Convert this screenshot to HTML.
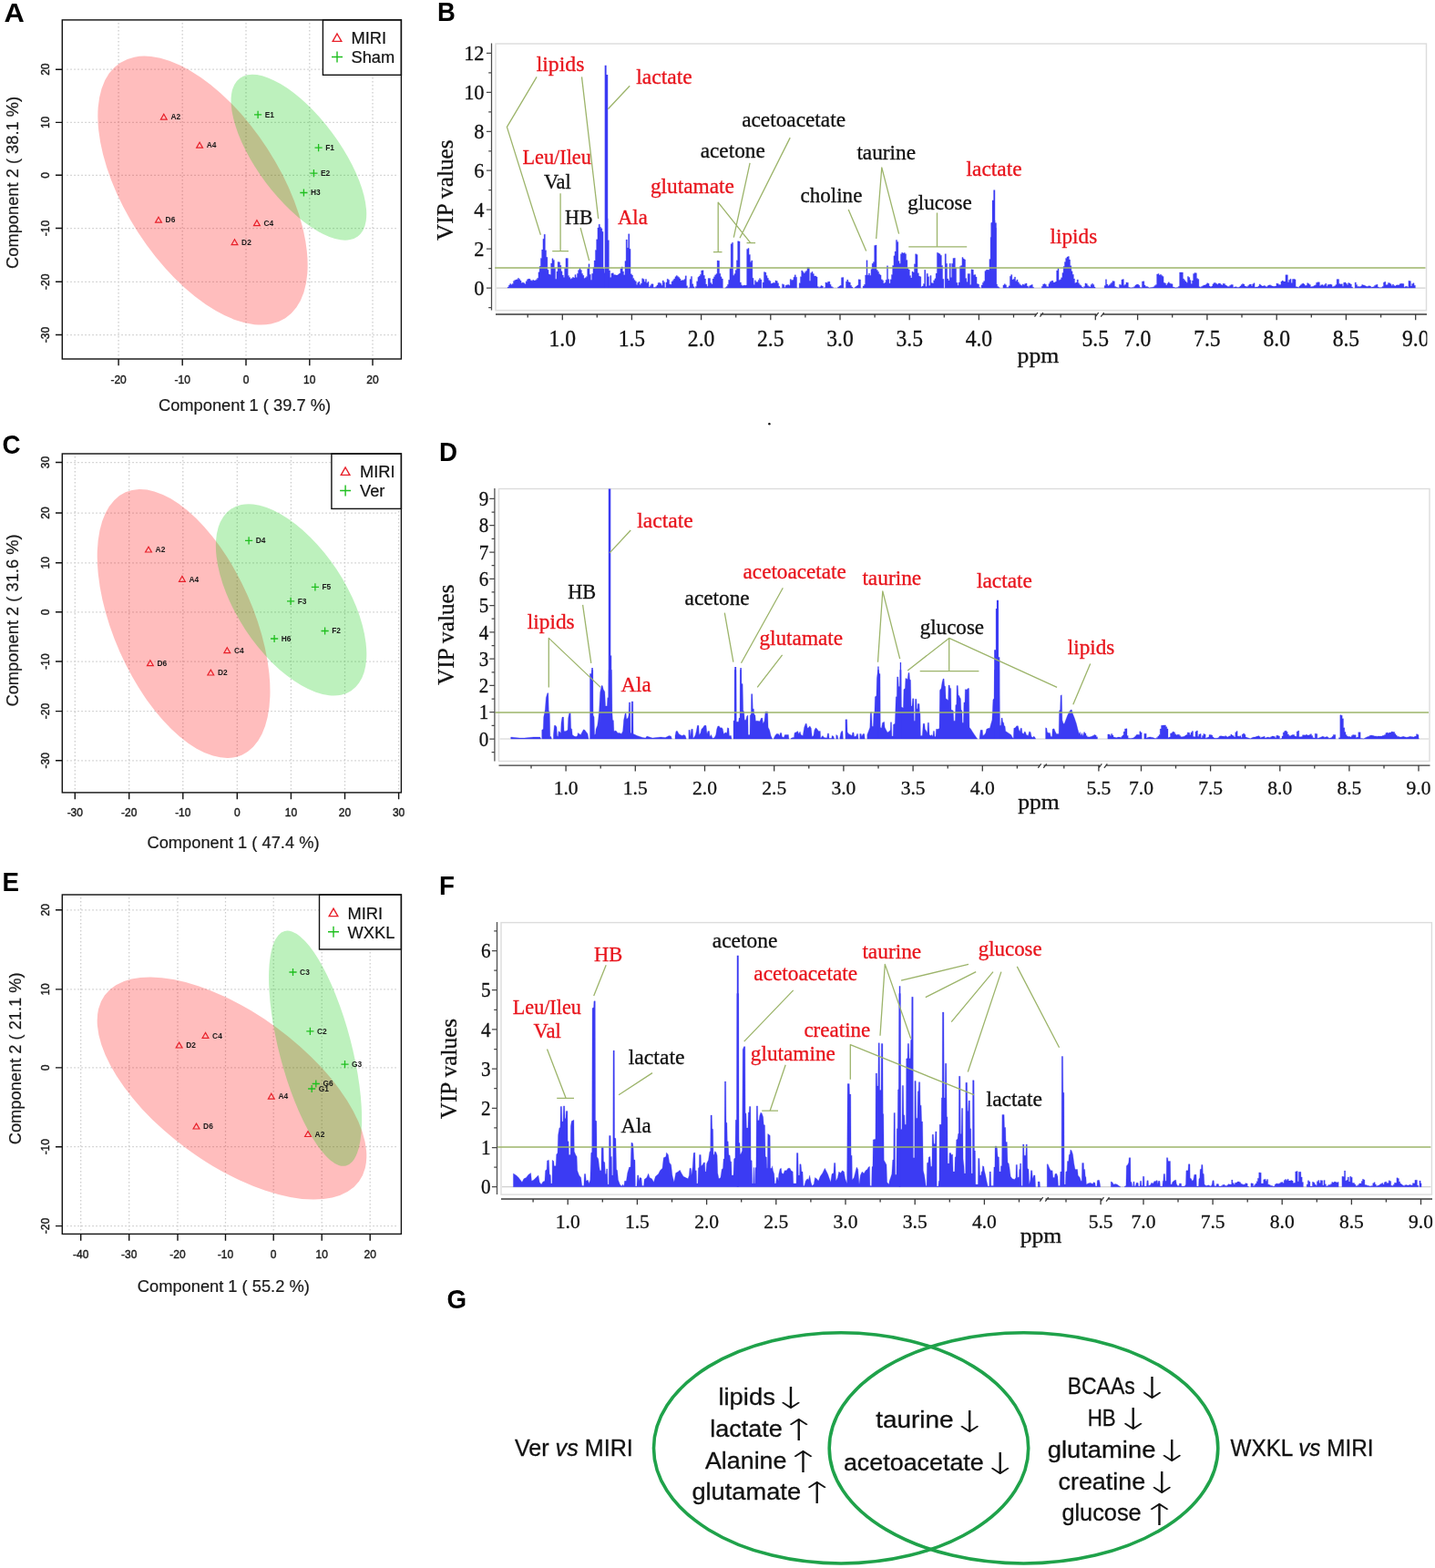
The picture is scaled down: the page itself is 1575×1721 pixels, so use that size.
<!DOCTYPE html>
<html lang="en"><head><meta charset="utf-8"><title>Figure</title>
<style>
html,body{margin:0;padding:0;background:#fff;}
body{width:1575px;height:1721px;overflow:hidden;}
svg{display:block;}
text{white-space:pre;}
</style></head><body>
<svg width="1575" height="1721" viewBox="0 0 1575 1721">
<rect width="1575" height="1721" fill="#fff"/>
<g>
<rect x="544.0" y="48.0" width="1021.5" height="292.6" fill="#fff" stroke="#dcdcdc" stroke-width="1.4"/>
<path d="M545.0 316.1H1564.5" stroke="#d0d0d0" stroke-width="1.2" fill="none"/>
<path d="M557.1 316.1L557.1 316.1L557.1 315.0L558.4 315.0L558.4 312.9L559.6 312.9L559.6 311.6L560.9 311.6L560.9 312.6L562.1 312.6L562.1 311.5L563.4 311.5L563.4 308.4L564.6 308.4L564.6 307.6L565.9 307.6L565.9 307.1L567.1 307.1L567.1 306.7L568.4 306.7L568.4 305.3L569.6 305.3L569.6 306.5L570.9 306.5L570.9 308.1L572.1 308.1L572.1 310.4L573.4 310.4L573.4 309.9L574.6 309.9L574.6 310.7L575.9 310.7L575.9 311.8L577.1 311.8L577.1 308.7L578.4 308.7L578.4 306.8L579.6 306.8L579.6 306.1L580.9 306.1L580.9 306.3L582.1 306.3L582.1 307.7L583.4 307.7L583.4 308.3L584.6 308.3L584.6 307.3L585.9 307.3L585.9 308.1L587.1 308.1L587.1 307.7L588.4 307.7L588.4 306.7L589.6 306.7L589.6 305.3L590.9 305.3L590.9 298.7L592.1 298.7L592.1 292.3L593.4 292.3L593.4 283.4L594.6 283.4L594.6 274.1L595.9 274.1L595.9 262.3L597.1 262.3L597.1 257.2L598.4 257.2L598.4 274.7L599.6 274.7L599.6 282.3L600.9 282.3L600.9 296.2L602.1 296.2L602.1 301.1L603.4 301.1L603.4 301.6L604.6 301.6L604.6 289.1L605.9 289.1L605.9 283.7L607.1 283.7L607.1 285.4L608.4 285.4L608.4 294.0L609.6 294.0L609.6 306.2L610.9 306.2L610.9 298.0L612.1 298.0L612.1 287.5L613.4 287.5L613.4 287.8L614.6 287.8L614.6 291.3L615.9 291.3L615.9 297.8L617.1 297.8L617.1 302.1L618.4 302.1L618.4 304.5L619.6 304.5L619.6 294.2L620.9 294.2L620.9 283.6L622.1 283.6L622.1 283.6L623.4 283.6L623.4 302.4L624.6 302.4L624.6 304.6L625.9 304.6L625.9 306.2L627.1 306.2L627.1 305.6L628.4 305.6L628.4 304.3L629.6 304.3L629.6 304.9L630.9 304.9L630.9 301.6L632.1 301.6L632.1 304.4L633.4 304.4L633.4 300.3L634.6 300.3L634.6 296.6L635.9 296.6L635.9 294.4L637.1 294.4L637.1 296.5L638.4 296.5L638.4 300.3L639.6 300.3L639.6 302.3L640.9 302.3L640.9 305.6L642.1 305.6L642.1 304.7L643.4 304.7L643.4 303.4L644.6 303.4L644.6 294.8L645.9 294.8L645.9 289.8L647.1 289.8L647.1 301.3L648.4 301.3L648.4 307.2L649.6 307.2L649.6 300.3L650.9 300.3L650.9 293.4L652.1 293.4L652.1 286.0L653.4 286.0L653.4 274.6L654.6 274.6L654.6 262.8L655.9 262.8L655.9 250.0L657.1 250.0L657.1 246.2L658.4 246.2L658.4 249.2L659.6 249.2L659.6 250.8L660.9 250.8L660.9 254.3L662.1 254.3L662.1 294.9L663.4 294.9L663.4 299.4L664.6 299.4L664.6 238.8L665.9 238.8L665.9 239.8L667.1 239.8L667.1 263.7L668.4 263.7L668.4 296.9L669.6 296.9L669.6 304.5L670.9 304.5L670.9 300.1L672.1 300.1L672.1 299.8L673.4 299.8L673.4 301.5L674.6 301.5L674.6 301.7L675.9 301.7L675.9 302.1L677.1 302.1L677.1 302.0L678.4 302.0L678.4 301.1L679.6 301.1L679.6 300.0L680.9 300.0L680.9 295.1L682.1 295.1L682.1 292.9L683.4 292.9L683.4 298.0L684.6 298.0L684.6 301.8L685.9 301.8L685.9 286.6L687.1 286.6L687.1 263.0L688.4 263.0L688.4 272.0L689.6 272.0L689.6 256.8L690.9 256.8L690.9 273.3L692.1 273.3L692.1 300.7L693.4 300.7L693.4 302.1L694.6 302.1L694.6 305.4L695.9 305.4L695.9 307.4L697.1 307.4L697.1 308.8L698.4 308.8L698.4 312.5L699.6 312.5L699.6 310.3L700.9 310.3L700.9 309.1L702.1 309.1L702.1 312.6L703.4 312.6L703.4 310.9L704.6 310.9L704.6 305.7L705.9 305.7L705.9 306.4L707.1 306.4L707.1 309.2L708.4 309.2L708.4 306.5L709.6 306.5L709.6 310.6L710.9 310.6L710.9 309.2L712.1 309.2L712.1 314.9L713.4 314.9L713.4 313.4L714.6 313.4L714.6 311.8L715.9 311.8L715.9 311.8L717.1 311.8L717.1 315.6L718.4 315.6L718.4 315.5L719.6 315.5L719.6 314.6L720.9 314.6L720.9 313.0L722.1 313.0L722.1 310.4L723.4 310.4L723.4 310.2L724.6 310.2L724.6 311.3L725.9 311.3L725.9 313.2L727.1 313.2L727.1 307.9L728.4 307.9L728.4 309.7L729.6 309.7L729.6 315.7L730.9 315.7L730.9 309.9L732.1 309.9L732.1 306.2L733.4 306.2L733.4 307.3L734.6 307.3L734.6 312.0L735.9 312.0L735.9 312.3L737.1 312.3L737.1 308.9L738.4 308.9L738.4 307.6L739.6 307.6L739.6 305.9L740.9 305.9L740.9 303.7L742.1 303.7L742.1 302.6L743.4 302.6L743.4 303.5L744.6 303.5L744.6 304.5L745.9 304.5L745.9 306.1L747.1 306.1L747.1 308.1L748.4 308.1L748.4 307.6L749.6 307.6L749.6 307.6L750.9 307.6L750.9 306.4L752.1 306.4L752.1 302.8L753.4 302.8L753.4 313.7L754.6 313.7L754.6 316.1L754.6 316.1ZM755.9 316.1L755.9 316.1L755.9 315.7L757.1 315.7L757.1 306.5L758.4 306.5L758.4 303.5L759.6 303.5L759.6 311.7L760.9 311.7L760.9 314.7L762.1 314.7L762.1 316.1L762.1 316.1ZM763.4 316.1L763.4 316.1L763.4 314.4L764.6 314.4L764.6 308.8L765.9 308.8L765.9 304.2L767.1 304.2L767.1 303.1L768.4 303.1L768.4 301.3L769.6 301.3L769.6 296.9L770.9 296.9L770.9 296.7L772.1 296.7L772.1 302.3L773.4 302.3L773.4 306.1L774.6 306.1L774.6 311.9L775.9 311.9L775.9 314.2L777.1 314.2L777.1 305.5L778.4 305.5L778.4 305.6L779.6 305.6L779.6 310.6L780.9 310.6L780.9 312.0L782.1 312.0L782.1 306.1L783.4 306.1L783.4 303.8L784.6 303.8L784.6 301.8L785.9 301.8L785.9 300.6L787.1 300.6L787.1 286.0L788.4 286.0L788.4 286.3L789.6 286.3L789.6 300.2L790.9 300.2L790.9 303.8L792.1 303.8L792.1 306.0L793.4 306.0L793.4 316.1L793.4 316.1ZM795.9 316.1L795.9 316.1L795.9 315.8L797.1 315.8L797.1 314.6L798.4 314.6L798.4 312.3L799.6 312.3L799.6 307.3L800.9 307.3L800.9 294.5L802.1 294.5L802.1 267.8L803.4 267.8L803.4 266.3L804.6 266.3L804.6 302.2L805.9 302.2L805.9 300.6L807.1 300.6L807.1 296.6L808.4 296.6L808.4 285.8L809.6 285.8L809.6 264.7L810.9 264.7L810.9 265.1L812.1 265.1L812.1 309.9L813.4 309.9L813.4 312.8L814.6 312.8L814.6 313.8L815.9 313.8L815.9 313.1L817.1 313.1L817.1 313.2L818.4 313.2L818.4 313.0L819.6 313.0L819.6 273.4L820.9 273.4L820.9 272.5L822.1 272.5L822.1 279.4L823.4 279.4L823.4 287.5L824.6 287.5L824.6 285.9L825.9 285.9L825.9 305.3L827.1 305.3L827.1 312.4L828.4 312.4L828.4 307.8L829.6 307.8L829.6 309.6L830.9 309.6L830.9 309.6L832.1 309.6L832.1 307.4L833.4 307.4L833.4 305.6L834.6 305.6L834.6 306.9L835.9 306.9L835.9 316.1L835.9 316.1ZM837.1 316.1L837.1 316.1L837.1 310.1L838.4 310.1L838.4 298.6L839.6 298.6L839.6 299.1L840.9 299.1L840.9 302.5L842.1 302.5L842.1 305.3L843.4 305.3L843.4 307.5L844.6 307.5L844.6 308.6L845.9 308.6L845.9 311.3L847.1 311.3L847.1 311.1L848.4 311.1L848.4 310.2L849.6 310.2L849.6 310.6L850.9 310.6L850.9 307.9L852.1 307.9L852.1 308.5L853.4 308.5L853.4 310.7L854.6 310.7L854.6 314.3L855.9 314.3L855.9 316.1L855.9 316.1ZM858.4 316.1L858.4 316.1L858.4 311.8L859.6 311.8L859.6 312.5L860.9 312.5L860.9 315.5L862.1 315.5L862.1 313.3L863.4 313.3L863.4 312.7L864.6 312.7L864.6 312.6L865.9 312.6L865.9 313.2L867.1 313.2L867.1 306.6L868.4 306.6L868.4 307.4L869.6 307.4L869.6 307.3L870.9 307.3L870.9 304.2L872.1 304.2L872.1 301.8L873.4 301.8L873.4 304.2L874.6 304.2L874.6 316.1L874.6 316.1ZM877.1 316.1L877.1 316.1L877.1 310.7L878.4 310.7L878.4 303.7L879.6 303.7L879.6 297.0L880.9 297.0L880.9 298.5L882.1 298.5L882.1 300.1L883.4 300.1L883.4 298.5L884.6 298.5L884.6 297.2L885.9 297.2L885.9 293.6L887.1 293.6L887.1 293.6L888.4 293.6L888.4 308.2L889.6 308.2L889.6 299.6L890.9 299.6L890.9 298.3L892.1 298.3L892.1 300.6L893.4 300.6L893.4 303.0L894.6 303.0L894.6 302.9L895.9 302.9L895.9 303.9L897.1 303.9L897.1 314.6L898.4 314.6L898.4 315.7L899.6 315.7L899.6 314.8L900.9 314.8L900.9 313.6L902.1 313.6L902.1 314.1L903.4 314.1L903.4 316.1L903.4 316.1ZM904.6 316.1L904.6 316.1L904.6 315.7L905.9 315.7L905.9 310.0L907.1 310.0L907.1 310.6L908.4 310.6L908.4 309.3L909.6 309.3L909.6 309.1L910.9 309.1L910.9 312.2L912.1 312.2L912.1 314.4L913.4 314.4L913.4 315.5L914.6 315.5L914.6 316.1L914.6 316.1ZM919.6 316.1L919.6 316.1L919.6 314.9L920.9 314.9L920.9 314.1L922.1 314.1L922.1 313.3L923.4 313.3L923.4 304.7L924.6 304.7L924.6 304.4L925.9 304.4L925.9 316.1L925.9 316.1ZM928.4 316.1L928.4 316.1L928.4 308.9L929.6 308.9L929.6 307.1L930.9 307.1L930.9 309.6L932.1 309.6L932.1 310.1L933.4 310.1L933.4 313.2L934.6 313.2L934.6 315.0L935.9 315.0L935.9 316.1L935.9 316.1ZM938.4 316.1L938.4 316.1L938.4 315.0L939.6 315.0L939.6 314.0L940.9 314.0L940.9 312.9L942.1 312.9L942.1 306.7L943.4 306.7L943.4 306.9L944.6 306.9L944.6 316.1L944.6 316.1ZM947.1 316.1L947.1 316.1L947.1 314.0L948.4 314.0L948.4 312.3L949.6 312.3L949.6 301.9L950.9 301.9L950.9 285.7L952.1 285.7L952.1 302.0L953.4 302.0L953.4 300.1L954.6 300.1L954.6 302.3L955.9 302.3L955.9 295.6L957.1 295.6L957.1 289.3L958.4 289.3L958.4 287.6L959.6 287.6L959.6 269.4L960.9 269.4L960.9 269.1L962.1 269.1L962.1 296.5L963.4 296.5L963.4 298.2L964.6 298.2L964.6 300.8L965.9 300.8L965.9 301.9L967.1 301.9L967.1 306.7L968.4 306.7L968.4 307.8L969.6 307.8L969.6 311.0L970.9 311.0L970.9 310.3L972.1 310.3L972.1 307.2L973.4 307.2L973.4 291.8L974.6 291.8L974.6 306.6L975.9 306.6L975.9 310.9L977.1 310.9L977.1 306.8L978.4 306.8L978.4 301.6L979.6 301.6L979.6 291.5L980.9 291.5L980.9 280.8L982.1 280.8L982.1 276.0L983.4 276.0L983.4 263.4L984.6 263.4L984.6 265.4L985.9 265.4L985.9 286.4L987.1 286.4L987.1 289.2L988.4 289.2L988.4 278.8L989.6 278.8L989.6 277.3L990.9 277.3L990.9 277.9L992.1 277.9L992.1 277.5L993.4 277.5L993.4 278.7L994.6 278.7L994.6 285.5L995.9 285.5L995.9 294.4L997.1 294.4L997.1 295.9L998.4 295.9L998.4 302.6L999.6 302.6L999.6 305.1L1000.9 305.1L1000.9 298.1L1002.1 298.1L1002.1 298.9L1003.4 298.9L1003.4 289.8L1004.6 289.8L1004.6 278.8L1005.9 278.8L1005.9 279.4L1007.1 279.4L1007.1 299.8L1008.4 299.8L1008.4 303.1L1009.6 303.1L1009.6 303.7L1010.9 303.7L1010.9 314.7L1012.1 314.7L1012.1 314.0L1013.4 314.0L1013.4 311.5L1014.6 311.5L1014.6 296.3L1015.9 296.3L1015.9 314.6L1017.1 314.6L1017.1 300.3L1018.4 300.3L1018.4 303.7L1019.6 303.7L1019.6 313.6L1020.9 313.6L1020.9 302.4L1022.1 302.4L1022.1 310.4L1023.4 310.4L1023.4 311.1L1024.6 311.1L1024.6 307.8L1025.9 307.8L1025.9 305.8L1027.1 305.8L1027.1 300.1L1028.4 300.1L1028.4 277.3L1029.6 277.3L1029.6 277.9L1030.9 277.9L1030.9 278.7L1032.1 278.7L1032.1 280.2L1033.4 280.2L1033.4 291.4L1034.6 291.4L1034.6 306.3L1035.9 306.3L1035.9 316.1L1035.9 316.1ZM1037.1 316.1L1037.1 316.1L1037.1 278.7L1038.4 278.7L1038.4 289.2L1039.6 289.2L1039.6 305.9L1040.9 305.9L1040.9 308.0L1042.1 308.0L1042.1 289.2L1043.4 289.2L1043.4 304.5L1044.6 304.5L1044.6 289.2L1045.9 289.2L1045.9 283.5L1047.1 283.5L1047.1 283.3L1048.4 283.3L1048.4 294.0L1049.6 294.0L1049.6 310.3L1050.9 310.3L1050.9 313.3L1052.1 313.3L1052.1 309.9L1053.4 309.9L1053.4 292.4L1054.6 292.4L1054.6 291.5L1055.9 291.5L1055.9 282.5L1057.1 282.5L1057.1 284.0L1058.4 284.0L1058.4 284.9L1059.6 284.9L1059.6 305.5L1060.9 305.5L1060.9 309.5L1062.1 309.5L1062.1 300.5L1063.4 300.5L1063.4 300.5L1064.6 300.5L1064.6 312.4L1065.9 312.4L1065.9 295.8L1067.1 295.8L1067.1 296.0L1068.4 296.0L1068.4 301.8L1069.6 301.8L1069.6 301.4L1070.9 301.4L1070.9 304.1L1072.1 304.1L1072.1 311.5L1073.4 311.5L1073.4 312.1L1074.6 312.1L1074.6 315.6L1075.9 315.6L1075.9 316.1L1075.9 316.1ZM1077.1 316.1L1077.1 316.1L1077.1 312.9L1078.4 312.9L1078.4 310.2L1079.6 310.2L1079.6 308.6L1080.9 308.6L1080.9 297.4L1082.1 297.4L1082.1 296.2L1083.4 296.2L1083.4 296.0L1084.6 296.0L1084.6 296.2L1085.9 296.2L1085.9 284.5L1087.1 284.5L1087.1 260.4L1088.4 260.4L1088.4 244.2L1089.6 244.2L1089.6 238.8L1090.9 238.8L1090.9 241.9L1092.1 241.9L1092.1 250.3L1093.4 250.3L1093.4 312.0L1094.6 312.0L1094.6 314.5L1095.9 314.5L1095.9 315.6L1097.1 315.6L1097.1 316.1L1097.1 316.1ZM1100.9 316.1L1100.9 316.1L1100.9 313.1L1102.1 313.1L1102.1 311.7L1103.4 311.7L1103.4 312.8L1104.6 312.8L1104.6 315.5L1105.9 315.5L1105.9 315.5L1107.1 315.5L1107.1 313.8L1108.4 313.8L1108.4 303.2L1109.6 303.2L1109.6 301.6L1110.9 301.6L1110.9 306.9L1112.1 306.9L1112.1 306.2L1113.4 306.2L1113.4 304.0L1114.6 304.0L1114.6 308.6L1115.9 308.6L1115.9 306.9L1117.1 306.9L1117.1 309.7L1118.4 309.7L1118.4 311.6L1119.6 311.6L1119.6 312.8L1120.9 312.8L1120.9 313.6L1122.1 313.6L1122.1 311.9L1123.4 311.9L1123.4 312.7L1124.6 312.7L1124.6 311.6L1125.9 311.6L1125.9 311.0L1127.1 311.0L1127.1 313.9L1128.4 313.9L1128.4 315.4L1129.6 315.4L1129.6 313.7L1130.9 313.7L1130.9 312.9L1132.1 312.9L1132.1 312.4L1133.4 312.4L1133.4 315.3L1134.6 315.3L1134.6 316.1L1134.6 316.1ZM1143.4 316.1L1143.4 316.1L1143.4 314.2L1144.6 314.2L1144.6 311.9L1145.9 311.9L1145.9 311.6L1147.1 311.6L1147.1 312.3L1148.4 312.3L1148.4 314.5L1149.6 314.5L1149.6 314.7L1150.9 314.7L1150.9 311.6L1152.1 311.6L1152.1 309.4L1153.4 309.4L1153.4 308.6L1154.6 308.6L1154.6 308.1L1155.9 308.1L1155.9 309.9L1157.1 309.9L1157.1 310.0L1158.4 310.0L1158.4 309.1L1159.6 309.1L1159.6 296.9L1160.9 296.9L1160.9 294.7L1162.1 294.7L1162.1 307.5L1163.4 307.5L1163.4 306.8L1164.6 306.8L1164.6 304.7L1165.9 304.7L1165.9 299.6L1167.1 299.6L1167.1 292.5L1168.4 292.5L1168.4 287.6L1169.6 287.6L1169.6 283.5L1170.9 283.5L1170.9 282.1L1172.1 282.1L1172.1 281.5L1173.4 281.5L1173.4 285.1L1174.6 285.1L1174.6 291.7L1175.9 291.7L1175.9 297.7L1177.1 297.7L1177.1 301.2L1178.4 301.2L1178.4 305.9L1179.6 305.9L1179.6 310.4L1180.9 310.4L1180.9 310.1L1182.1 310.1L1182.1 306.9L1183.4 306.9L1183.4 310.7L1184.6 310.7L1184.6 312.6L1185.9 312.6L1185.9 313.4L1187.1 313.4L1187.1 315.0L1188.4 315.0L1188.4 315.9L1189.6 315.9L1189.6 314.4L1190.9 314.4L1190.9 310.9L1192.1 310.9L1192.1 311.6L1193.4 311.6L1193.4 313.5L1194.6 313.5L1194.6 314.4L1195.9 314.4L1195.9 315.1L1197.1 315.1L1197.1 312.5L1198.4 312.5L1198.4 311.3L1199.6 311.3L1199.6 312.4L1200.9 312.4L1200.9 315.0L1202.1 315.0L1202.1 316.1L1202.1 316.1ZM1212.1 316.1L1212.1 316.1L1212.1 313.6L1213.4 313.6L1213.4 306.7L1214.6 306.7L1214.6 312.1L1215.9 312.1L1215.9 313.8L1217.1 313.8L1217.1 312.8L1218.4 312.8L1218.4 311.6L1219.6 311.6L1219.6 310.2L1220.9 310.2L1220.9 308.5L1222.1 308.5L1222.1 308.7L1223.4 308.7L1223.4 314.5L1224.6 314.5L1224.6 315.3L1225.9 315.3L1225.9 315.7L1227.1 315.7L1227.1 316.0L1228.4 316.0L1228.4 312.3L1229.6 312.3L1229.6 312.7L1230.9 312.7L1230.9 306.9L1232.1 306.9L1232.1 306.6L1233.4 306.6L1233.4 313.2L1234.6 313.2L1234.6 312.3L1235.9 312.3L1235.9 310.0L1237.1 310.0L1237.1 310.2L1238.4 310.2L1238.4 315.2L1239.6 315.2L1239.6 315.8L1240.9 315.8L1240.9 315.9L1242.1 315.9L1242.1 315.7L1243.4 315.7L1243.4 315.4L1244.6 315.4L1244.6 314.6L1245.9 314.6L1245.9 312.9L1247.1 312.9L1247.1 312.2L1248.4 312.2L1248.4 312.1L1249.6 312.1L1249.6 313.3L1250.9 313.3L1250.9 315.5L1252.1 315.5L1252.1 315.8L1253.4 315.8L1253.4 308.9L1254.6 308.9L1254.6 308.7L1255.9 308.7L1255.9 312.9L1257.1 312.9L1257.1 314.5L1258.4 314.5L1258.4 314.4L1259.6 314.4L1259.6 315.2L1260.9 315.2L1260.9 316.0L1262.1 316.0L1262.1 315.8L1263.4 315.8L1263.4 315.6L1264.6 315.6L1264.6 315.3L1265.9 315.3L1265.9 314.7L1267.1 314.7L1267.1 313.6L1268.4 313.6L1268.4 312.5L1269.6 312.5L1269.6 300.9L1270.9 300.9L1270.9 300.4L1272.1 300.4L1272.1 302.0L1273.4 302.0L1273.4 301.2L1274.6 301.2L1274.6 302.5L1275.9 302.5L1275.9 303.4L1277.1 303.4L1277.1 310.3L1278.4 310.3L1278.4 310.9L1279.6 310.9L1279.6 312.9L1280.9 312.9L1280.9 311.2L1282.1 311.2L1282.1 309.8L1283.4 309.8L1283.4 310.9L1284.6 310.9L1284.6 311.4L1285.9 311.4L1285.9 311.7L1287.1 311.7L1287.1 315.0L1288.4 315.0L1288.4 315.5L1289.6 315.5L1289.6 316.0L1290.9 316.0L1290.9 315.8L1292.1 315.8L1292.1 315.4L1293.4 315.4L1293.4 314.3L1294.6 314.3L1294.6 298.9L1295.9 298.9L1295.9 298.9L1297.1 298.9L1297.1 299.1L1298.4 299.1L1298.4 305.9L1299.6 305.9L1299.6 307.5L1300.9 307.5L1300.9 309.0L1302.1 309.0L1302.1 310.3L1303.4 310.3L1303.4 303.4L1304.6 303.4L1304.6 304.6L1305.9 304.6L1305.9 307.4L1307.1 307.4L1307.1 311.6L1308.4 311.6L1308.4 308.1L1309.6 308.1L1309.6 300.4L1310.9 300.4L1310.9 299.5L1312.1 299.5L1312.1 299.7L1313.4 299.7L1313.4 305.6L1314.6 305.6L1314.6 306.5L1315.9 306.5L1315.9 314.7L1317.1 314.7L1317.1 315.2L1318.4 315.2L1318.4 314.5L1319.6 314.5L1319.6 313.8L1320.9 313.8L1320.9 312.9L1322.1 312.9L1322.1 312.9L1323.4 312.9L1323.4 312.0L1324.6 312.0L1324.6 310.8L1325.9 310.8L1325.9 311.3L1327.1 311.3L1327.1 314.1L1328.4 314.1L1328.4 315.1L1329.6 315.1L1329.6 314.1L1330.9 314.1L1330.9 311.8L1332.1 311.8L1332.1 310.5L1333.4 310.5L1333.4 310.6L1334.6 310.6L1334.6 311.6L1335.9 311.6L1335.9 312.3L1337.1 312.3L1337.1 311.0L1338.4 311.0L1338.4 311.1L1339.6 311.1L1339.6 312.3L1340.9 312.3L1340.9 312.9L1342.1 312.9L1342.1 311.3L1343.4 311.3L1343.4 311.5L1344.6 311.5L1344.6 312.9L1345.9 312.9L1345.9 313.8L1347.1 313.8L1347.1 314.4L1348.4 314.4L1348.4 314.6L1349.6 314.6L1349.6 313.3L1350.9 313.3L1350.9 312.4L1352.1 312.4L1352.1 312.6L1353.4 312.6L1353.4 315.4L1354.6 315.4L1354.6 314.9L1355.9 314.9L1355.9 314.7L1357.1 314.7L1357.1 315.2L1358.4 315.2L1358.4 315.7L1359.6 315.7L1359.6 315.0L1360.9 315.0L1360.9 313.9L1362.1 313.9L1362.1 312.6L1363.4 312.6L1363.4 311.6L1364.6 311.6L1364.6 311.9L1365.9 311.9L1365.9 314.1L1367.1 314.1L1367.1 314.4L1368.4 314.4L1368.4 314.7L1369.6 314.7L1369.6 313.6L1370.9 313.6L1370.9 312.3L1372.1 312.3L1372.1 312.1L1373.4 312.1L1373.4 314.0L1374.6 314.0L1374.6 311.8L1375.9 311.8L1375.9 310.7L1377.1 310.7L1377.1 315.3L1378.4 315.3L1378.4 315.1L1379.6 315.1L1379.6 315.1L1380.9 315.1L1380.9 314.1L1382.1 314.1L1382.1 311.9L1383.4 311.9L1383.4 313.1L1384.6 313.1L1384.6 313.9L1385.9 313.9L1385.9 313.9L1387.1 313.9L1387.1 313.5L1388.4 313.5L1388.4 314.2L1389.6 314.2L1389.6 314.9L1390.9 314.9L1390.9 313.8L1392.1 313.8L1392.1 313.0L1393.4 313.0L1393.4 312.8L1394.6 312.8L1394.6 313.6L1395.9 313.6L1395.9 314.1L1397.1 314.1L1397.1 314.3L1398.4 314.3L1398.4 314.3L1399.6 314.3L1399.6 314.1L1400.9 314.1L1400.9 311.1L1402.1 311.1L1402.1 311.5L1403.4 311.5L1403.4 312.4L1404.6 312.4L1404.6 312.6L1405.9 312.6L1405.9 309.1L1407.1 309.1L1407.1 308.0L1408.4 308.0L1408.4 309.1L1409.6 309.1L1409.6 309.1L1410.9 309.1L1410.9 301.7L1412.1 301.7L1412.1 301.8L1413.4 301.8L1413.4 309.8L1414.6 309.8L1414.6 307.3L1415.9 307.3L1415.9 306.2L1417.1 306.2L1417.1 310.4L1418.4 310.4L1418.4 306.5L1419.6 306.5L1419.6 306.3L1420.9 306.3L1420.9 306.8L1422.1 306.8L1422.1 314.7L1423.4 314.7L1423.4 315.1L1424.6 315.1L1424.6 315.4L1425.9 315.4L1425.9 314.1L1427.1 314.1L1427.1 312.8L1428.4 312.8L1428.4 311.8L1429.6 311.8L1429.6 310.9L1430.9 310.9L1430.9 311.9L1432.1 311.9L1432.1 313.6L1433.4 313.6L1433.4 313.2L1434.6 313.2L1434.6 310.7L1435.9 310.7L1435.9 311.5L1437.1 311.5L1437.1 312.5L1438.4 312.5L1438.4 314.7L1439.6 314.7L1439.6 314.6L1440.9 314.6L1440.9 314.3L1442.1 314.3L1442.1 313.5L1443.4 313.5L1443.4 312.8L1444.6 312.8L1444.6 310.2L1445.9 310.2L1445.9 309.7L1447.1 309.7L1447.1 309.8L1448.4 309.8L1448.4 313.7L1449.6 313.7L1449.6 312.7L1450.9 312.7L1450.9 312.6L1452.1 312.6L1452.1 313.5L1453.4 313.5L1453.4 312.4L1454.6 312.4L1454.6 311.2L1455.9 311.2L1455.9 314.3L1457.1 314.3L1457.1 312.6L1458.4 312.6L1458.4 312.3L1459.6 312.3L1459.6 312.0L1460.9 312.0L1460.9 312.6L1462.1 312.6L1462.1 314.8L1463.4 314.8L1463.4 314.5L1464.6 314.5L1464.6 313.8L1465.9 313.8L1465.9 312.5L1467.1 312.5L1467.1 306.6L1468.4 306.6L1468.4 306.6L1469.6 306.6L1469.6 311.6L1470.9 311.6L1470.9 312.0L1472.1 312.0L1472.1 311.8L1473.4 311.8L1473.4 314.2L1474.6 314.2L1474.6 310.2L1475.9 310.2L1475.9 309.9L1477.1 309.9L1477.1 311.3L1478.4 311.3L1478.4 312.8L1479.6 312.8L1479.6 310.6L1480.9 310.6L1480.9 311.1L1482.1 311.1L1482.1 311.9L1483.4 311.9L1483.4 314.9L1484.6 314.9L1484.6 316.1L1484.6 316.1ZM1487.1 316.1L1487.1 316.1L1487.1 309.9L1488.4 309.9L1488.4 312.4L1489.6 312.4L1489.6 314.5L1490.9 314.5L1490.9 314.5L1492.1 314.5L1492.1 314.7L1493.4 314.7L1493.4 313.9L1494.6 313.9L1494.6 312.6L1495.9 312.6L1495.9 312.9L1497.1 312.9L1497.1 313.2L1498.4 313.2L1498.4 314.1L1499.6 314.1L1499.6 314.5L1500.9 314.5L1500.9 314.2L1502.1 314.2L1502.1 313.8L1503.4 313.8L1503.4 314.1L1504.6 314.1L1504.6 315.3L1505.9 315.3L1505.9 315.0L1507.1 315.0L1507.1 314.8L1508.4 314.8L1508.4 313.4L1509.6 313.4L1509.6 312.7L1510.9 312.7L1510.9 312.3L1512.1 312.3L1512.1 315.0L1513.4 315.0L1513.4 315.7L1514.6 315.7L1514.6 315.8L1515.9 315.8L1515.9 315.4L1517.1 315.4L1517.1 314.5L1518.4 314.5L1518.4 310.1L1519.6 310.1L1519.6 309.3L1520.9 309.3L1520.9 312.7L1522.1 312.7L1522.1 312.5L1523.4 312.5L1523.4 310.4L1524.6 310.4L1524.6 310.8L1525.9 310.8L1525.9 311.7L1527.1 311.7L1527.1 313.6L1528.4 313.6L1528.4 312.1L1529.6 312.1L1529.6 313.6L1530.9 313.6L1530.9 314.0L1532.1 314.0L1532.1 313.0L1533.4 313.0L1533.4 312.8L1534.6 312.8L1534.6 313.1L1535.9 313.1L1535.9 311.7L1537.1 311.7L1537.1 311.3L1538.4 311.3L1538.4 311.3L1539.6 311.3L1539.6 311.5L1540.9 311.5L1540.9 315.2L1542.1 315.2L1542.1 314.5L1543.4 314.5L1543.4 314.2L1544.6 314.2L1544.6 315.2L1545.9 315.2L1545.9 308.3L1547.1 308.3L1547.1 308.6L1548.4 308.6L1548.4 314.0L1549.6 314.0L1549.6 311.6L1550.9 311.6L1550.9 310.7L1552.1 310.7L1552.1 313.2L1553.4 313.2L1553.4 316.0L1553.4 316.0L1553.4 316.1Z" fill="#3b3bf3" stroke="#3b3bf3" stroke-width="0.3" stroke-linejoin="miter"/>
<path d="M663.7 316.1V71.7H665.6V316.1ZM665.4 316.1V82.0H667.2V316.1ZM1090.4 316.1V208.5H1092.2V316.1ZM1088.9 316.1V219.8H1092.2V316.1ZM1087.5 316.1V244.4H1093.7V316.1Z" fill="#3b3bf3"/>
<path d="M543.2 294.0H1564.5" stroke="#9cb46a" stroke-width="1.5" fill="none"/>
<path d="M589.1 84.3L556.4 139.4L593.4 257.8 M638.5 84.3L656.7 240 M691.2 94.2L667.3 119.8 M615.1 212.3V275.6M606.2 275.6H624 M637.1 250L646.7 286.2 M788.2 276.6V222.2L823.8 266.7M782.9 276.6H792.5M819.5 266.7H829.1 M823.1 178.8L805.3 260.6 M867.2 151.1L812 261.3 M931.2 230L950.7 275.6 M961.7 262L967.8 183.8L986.6 256.7 M1028.5 233.6V270.9M997.3 270.9H1061.2" stroke="#9cb46a" stroke-width="1.3" fill="none" stroke-linejoin="round"/>
<path d="M539.5 47.5V340.6M539.5 337.6h-3.3M539.5 316.1h-5.6M539.5 294.6h-3.3M539.5 273.2h-5.6M539.5 251.7h-3.3M539.5 230.2h-5.6M539.5 208.7h-3.3M539.5 187.2h-5.6M539.5 165.8h-3.3M539.5 144.3h-5.6M539.5 122.8h-3.3M539.5 101.4h-5.6M539.5 79.9h-3.3M539.5 58.4h-5.6" stroke="#4a4a4a" stroke-width="1.25" fill="none"/>
<text transform="translate(531.5 324.1) scale(0.94 1)" font-family="'Liberation Serif', serif" font-size="23.8" fill="#111" stroke="#111" stroke-width="0.3" text-anchor="end">0</text>
<text transform="translate(531.5 281.2) scale(0.94 1)" font-family="'Liberation Serif', serif" font-size="23.8" fill="#111" stroke="#111" stroke-width="0.3" text-anchor="end">2</text>
<text transform="translate(531.5 238.2) scale(0.94 1)" font-family="'Liberation Serif', serif" font-size="23.8" fill="#111" stroke="#111" stroke-width="0.3" text-anchor="end">4</text>
<text transform="translate(531.5 195.2) scale(0.94 1)" font-family="'Liberation Serif', serif" font-size="23.8" fill="#111" stroke="#111" stroke-width="0.3" text-anchor="end">6</text>
<text transform="translate(531.5 152.3) scale(0.94 1)" font-family="'Liberation Serif', serif" font-size="23.8" fill="#111" stroke="#111" stroke-width="0.3" text-anchor="end">8</text>
<text transform="translate(531.5 109.4) scale(0.94 1)" font-family="'Liberation Serif', serif" font-size="23.8" fill="#111" stroke="#111" stroke-width="0.3" text-anchor="end">10</text>
<text transform="translate(531.5 66.4) scale(0.94 1)" font-family="'Liberation Serif', serif" font-size="23.8" fill="#111" stroke="#111" stroke-width="0.3" text-anchor="end">12</text>
<path d="M544.0 345.0H1137.7M1141.7 345.0H1203.4M1209.7 345.0H1566.0M579.2 345.0v3.4M655.3 345.0v3.4M731.5 345.0v3.4M807.7 345.0v3.4M883.9 345.0v3.4M960.1 345.0v3.4M1036.3 345.0v3.4M1112.5 345.0v3.4M1164.2 345.0v3.4M1286.7 345.0v3.4M1363.0 345.0v3.4M1439.3 345.0v3.4M1515.6 345.0v3.4M617.3 345.0v6.2M693.4 345.0v6.2M769.6 345.0v6.2M845.8 345.0v6.2M922.0 345.0v6.2M998.2 345.0v6.2M1074.4 345.0v6.2M1202.3 345.0v6.2M1248.6 345.0v6.2M1324.9 345.0v6.2M1401.2 345.0v6.2M1477.4 345.0v6.2M1553.7 345.0v6.2M1135.5 347.6l3.4 -4.4M1141.5 347.6l3.4 -4.4M1202.3 347.6l3.4 -4.4M1208.3 347.6l3.4 -4.4" stroke="#3a3a3a" stroke-width="1.3" fill="none"/>
<text transform="translate(617.3 379.6) scale(0.96 1)" font-family="'Liberation Serif', serif" font-size="24.6" fill="#111" stroke="#111" stroke-width="0.3" text-anchor="middle">1.0</text>
<text transform="translate(693.4 379.6) scale(0.96 1)" font-family="'Liberation Serif', serif" font-size="24.6" fill="#111" stroke="#111" stroke-width="0.3" text-anchor="middle">1.5</text>
<text transform="translate(769.6 379.6) scale(0.96 1)" font-family="'Liberation Serif', serif" font-size="24.6" fill="#111" stroke="#111" stroke-width="0.3" text-anchor="middle">2.0</text>
<text transform="translate(845.8 379.6) scale(0.96 1)" font-family="'Liberation Serif', serif" font-size="24.6" fill="#111" stroke="#111" stroke-width="0.3" text-anchor="middle">2.5</text>
<text transform="translate(922.0 379.6) scale(0.96 1)" font-family="'Liberation Serif', serif" font-size="24.6" fill="#111" stroke="#111" stroke-width="0.3" text-anchor="middle">3.0</text>
<text transform="translate(998.2 379.6) scale(0.96 1)" font-family="'Liberation Serif', serif" font-size="24.6" fill="#111" stroke="#111" stroke-width="0.3" text-anchor="middle">3.5</text>
<text transform="translate(1074.4 379.6) scale(0.96 1)" font-family="'Liberation Serif', serif" font-size="24.6" fill="#111" stroke="#111" stroke-width="0.3" text-anchor="middle">4.0</text>
<text transform="translate(1202.3 379.6) scale(0.96 1)" font-family="'Liberation Serif', serif" font-size="24.6" fill="#111" stroke="#111" stroke-width="0.3" text-anchor="middle">5.5</text>
<text transform="translate(1248.6 379.6) scale(0.96 1)" font-family="'Liberation Serif', serif" font-size="24.6" fill="#111" stroke="#111" stroke-width="0.3" text-anchor="middle">7.0</text>
<text transform="translate(1324.9 379.6) scale(0.96 1)" font-family="'Liberation Serif', serif" font-size="24.6" fill="#111" stroke="#111" stroke-width="0.3" text-anchor="middle">7.5</text>
<text transform="translate(1401.2 379.6) scale(0.96 1)" font-family="'Liberation Serif', serif" font-size="24.6" fill="#111" stroke="#111" stroke-width="0.3" text-anchor="middle">8.0</text>
<text transform="translate(1477.4 379.6) scale(0.96 1)" font-family="'Liberation Serif', serif" font-size="24.6" fill="#111" stroke="#111" stroke-width="0.3" text-anchor="middle">8.5</text>
<text transform="translate(1553.7 379.6) scale(0.96 1)" font-family="'Liberation Serif', serif" font-size="24.6" fill="#111" stroke="#111" stroke-width="0.3" text-anchor="middle">9.0</text>
<rect x="1566.4" y="353.0" width="9.5" height="34" fill="#fff"/>
<text x="1139.4" y="397.8" font-family="'Liberation Serif', serif" font-size="23.5" fill="#111" stroke="#111" stroke-width="0.3" text-anchor="middle" textLength="45.7" lengthAdjust="spacingAndGlyphs">ppm</text>
<text transform="translate(497.3 208.7) rotate(-90)" font-family="'Liberation Serif', serif" font-size="26" fill="#111" stroke="#111" stroke-width="0.3" text-anchor="middle" textLength="110.5" lengthAdjust="spacingAndGlyphs">VIP values</text>
<text x="588.7" y="77.6" font-family="'Liberation Serif', serif" font-size="22.6" fill="#e8141c" stroke="#e8141c" stroke-width="0.3" text-anchor="start" textLength="52.7" lengthAdjust="spacingAndGlyphs">lipids</text>
<text x="698.3" y="92.2" font-family="'Liberation Serif', serif" font-size="22.6" fill="#e8141c" stroke="#e8141c" stroke-width="0.3" text-anchor="start" textLength="61.5" lengthAdjust="spacingAndGlyphs">lactate</text>
<text x="814.2" y="138.7" font-family="'Liberation Serif', serif" font-size="22.6" fill="#111" stroke="#111" stroke-width="0.3" text-anchor="start" textLength="113.8" lengthAdjust="spacingAndGlyphs">acetoacetate</text>
<text x="768.7" y="172.9" font-family="'Liberation Serif', serif" font-size="22.6" fill="#111" stroke="#111" stroke-width="0.3" text-anchor="start" textLength="71.1" lengthAdjust="spacingAndGlyphs">acetone</text>
<text x="940.4" y="174.7" font-family="'Liberation Serif', serif" font-size="22.6" fill="#111" stroke="#111" stroke-width="0.3" text-anchor="start" textLength="64.7" lengthAdjust="spacingAndGlyphs">taurine</text>
<text x="573.5" y="180.1" font-family="'Liberation Serif', serif" font-size="22.6" fill="#e8141c" stroke="#e8141c" stroke-width="0.3" text-anchor="start" textLength="75.3" lengthAdjust="spacingAndGlyphs">Leu/Ileu</text>
<text x="596.9" y="206.7" font-family="'Liberation Serif', serif" font-size="22.6" fill="#111" stroke="#111" stroke-width="0.3" text-anchor="start" textLength="29.9" lengthAdjust="spacingAndGlyphs">Val</text>
<text x="713.9" y="212.1" font-family="'Liberation Serif', serif" font-size="22.6" fill="#e8141c" stroke="#e8141c" stroke-width="0.3" text-anchor="start" textLength="92.1" lengthAdjust="spacingAndGlyphs">glutamate</text>
<text x="878.5" y="221.7" font-family="'Liberation Serif', serif" font-size="22.6" fill="#111" stroke="#111" stroke-width="0.3" text-anchor="start" textLength="67.9" lengthAdjust="spacingAndGlyphs">choline</text>
<text x="996.2" y="229.8" font-family="'Liberation Serif', serif" font-size="22.6" fill="#111" stroke="#111" stroke-width="0.3" text-anchor="start" textLength="70.7" lengthAdjust="spacingAndGlyphs">glucose</text>
<text x="620.0" y="245.8" font-family="'Liberation Serif', serif" font-size="22.6" fill="#111" stroke="#111" stroke-width="0.3" text-anchor="start" textLength="30.6" lengthAdjust="spacingAndGlyphs">HB</text>
<text x="678.0" y="245.8" font-family="'Liberation Serif', serif" font-size="22.6" fill="#e8141c" stroke="#e8141c" stroke-width="0.3" text-anchor="start" textLength="32.7" lengthAdjust="spacingAndGlyphs">Ala</text>
<text x="1060.5" y="193.4" font-family="'Liberation Serif', serif" font-size="22.6" fill="#e8141c" stroke="#e8141c" stroke-width="0.3" text-anchor="start" textLength="61.2" lengthAdjust="spacingAndGlyphs">lactate</text>
<text x="1152.6" y="267.2" font-family="'Liberation Serif', serif" font-size="22.6" fill="#e8141c" stroke="#e8141c" stroke-width="0.3" text-anchor="start" textLength="51.6" lengthAdjust="spacingAndGlyphs">lipids</text>
</g>
<g>
<rect x="547.5" y="536.5" width="1021.5" height="298.9" fill="#fff" stroke="#dcdcdc" stroke-width="1.4"/>
<path d="M548.5 811.0H1568.0" stroke="#d0d0d0" stroke-width="1.2" fill="none"/>
<path d="M560.7 811.0L560.7 811.0L560.7 809.0L565.2 809.5L570.3 810.0L575.4 810.0L580.5 809.5L585.6 809.0L592.7 809.0L593.7 811.0L593.7 811.0ZM594.7 811.0L594.7 811.0L594.7 801.3L596.2 800.3L596.7 787.1L598.3 779.0L599.3 765.8L600.8 760.7L601.8 760.7L602.3 780.0L603.3 782.0L603.8 808.5L604.9 808.5L605.4 811.0L605.4 811.0ZM607.4 811.0L607.4 811.0L607.4 806.4L608.4 796.3L609.9 796.3L611.0 798.3L611.5 807.4L612.5 808.5L613.0 802.4L614.5 803.4L615.5 804.4L616.0 793.2L617.0 787.1L618.6 787.1L619.1 802.4L621.1 802.4L623.1 801.3L623.7 788.1L624.7 783.1L626.2 782.6L626.7 799.3L627.7 800.3L628.2 806.4L630.3 808.0L632.3 808.5L633.8 807.4L634.3 804.4L635.8 805.4L637.4 806.4L638.9 803.4L640.4 800.8L641.9 801.3L643.5 803.4L645.0 805.4L646.0 811.0L646.0 811.0ZM647.5 811.0L647.5 811.0L647.5 739.4L649.0 739.4L649.6 735.3L650.8 735.3L651.1 785.1L652.1 787.1L652.6 806.4L653.6 805.4L654.1 800.3L655.7 796.3L656.7 789.2L657.7 779.0L658.7 759.7L660.2 752.6L661.2 752.6L662.3 756.7L663.8 759.2L664.6 774.9L666.3 774.9L666.8 765.8L667.8 765.8L668.0 735.3L671.4 735.3L671.9 781.0L672.4 790.2L673.4 790.7L673.9 802.4L676.0 801.9L678.0 804.4L680.0 804.4L682.1 805.4L683.6 802.4L684.6 790.2L686.1 783.1L687.1 783.1L687.7 789.2L689.2 788.1L690.0 785.1L690.4 770.9L691.7 770.9L692.0 804.4L693.0 804.4L693.2 769.9L694.8 769.9L695.1 805.4L697.3 806.4L699.3 807.4L702.4 808.5L705.4 809.5L708.5 810.0L710.0 808.0L713.0 809.0L716.1 810.0L720.2 809.5L725.2 809.0L730.3 809.5L734.4 807.4L736.4 808.0L737.4 811.0L737.4 811.0ZM741.0 811.0L741.0 811.0L741.0 807.4L742.0 802.4L743.5 802.4L745.0 805.4L746.6 806.4L748.6 807.4L750.6 806.4L752.2 807.4L753.2 811.0L753.2 811.0ZM755.9 811.0L755.9 811.0L755.9 801.3L757.2 801.3L757.7 808.5L758.8 800.3L760.3 800.3L760.8 810.5L762.3 808.5L763.3 806.4L764.3 802.4L765.4 796.3L766.9 796.3L767.4 806.4L768.9 804.4L769.9 800.3L771.5 798.8L773.0 796.3L775.0 796.3L776.0 805.4L777.0 802.4L778.6 802.4L779.1 808.5L780.6 806.4L782.1 810.5L784.2 809.5L785.7 806.4L786.7 800.3L787.7 797.3L789.2 796.8L790.3 798.8L792.3 798.8L793.3 800.3L794.3 805.4L796.3 803.9L797.9 804.4L798.4 798.8L799.9 799.3L800.4 807.4L802.4 807.4L803.0 811.0L803.0 811.0ZM805.0 811.0L805.0 811.0L805.0 791.2L806.0 790.7L806.3 735.3L808.0 735.3L808.3 792.2L810.6 792.2L811.1 788.1L812.1 788.1L812.4 735.3L813.6 735.3L813.8 750.6L815.1 750.6L815.7 780.0L816.7 781.0L817.2 790.2L818.7 790.2L819.7 786.1L820.9 785.1L821.2 806.4L823.0 806.4L823.3 785.1L824.3 784.1L824.6 761.7L825.8 761.7L826.3 778.0L827.3 778.0L827.8 784.1L828.9 785.1L829.4 791.2L831.9 791.2L833.9 791.7L835.5 788.1L836.8 788.1L837.5 794.2L839.0 791.2L840.0 781.0L842.6 781.0L843.1 798.3L844.6 801.3L846.1 807.4L847.7 811.0L847.7 811.0ZM849.2 811.0L849.2 811.0L849.2 810.5L850.7 807.4L852.2 805.4L854.3 805.4L855.8 807.4L856.3 804.4L857.8 804.4L858.3 808.5L860.3 809.5L861.4 806.4L865.4 806.4L865.9 811.0L865.9 811.0ZM868.0 811.0L868.0 811.0L868.0 810.5L870.0 809.5L871.5 809.5L872.0 804.4L874.1 803.4L875.6 802.4L876.6 805.4L878.1 802.9L879.1 806.4L881.2 807.4L882.7 798.3L884.2 794.2L885.2 794.2L886.3 799.3L887.8 798.3L888.8 796.8L890.3 799.3L891.3 808.5L892.9 807.4L893.9 801.3L895.4 798.8L896.9 800.3L898.4 802.4L900.3 802.4L900.7 810.5L902.0 808.5L903.0 807.4L904.5 809.5L907.6 810.0L908.4 804.9L909.6 804.9L910.1 810.5L912.7 810.5L913.2 807.4L914.7 808.0L915.7 811.0L915.7 811.0ZM917.7 811.0L917.7 811.0L917.7 806.4L919.3 807.4L919.8 811.0L919.8 811.0ZM921.8 811.0L921.8 811.0L921.8 809.5L922.8 804.4L923.8 802.4L924.9 802.4L925.4 811.0L925.4 811.0ZM927.9 811.0L927.9 811.0L927.9 789.7L929.7 789.7L930.1 803.4L931.5 805.4L933.5 806.4L935.0 807.4L935.8 803.9L937.0 803.9L937.6 808.5L939.6 808.0L940.6 805.4L941.6 805.4L942.1 811.0L942.1 811.0ZM943.7 811.0L943.7 811.0L943.7 805.4L945.2 805.4L945.7 808.5L947.2 805.4L948.7 805.4L949.2 811.0L949.2 811.0ZM951.8 811.0L951.8 811.0L951.8 806.4L953.3 802.4L954.8 798.3L955.3 782.0L956.6 781.5L957.2 797.3L958.4 797.3L958.9 783.1L959.9 782.0L960.4 764.8L961.9 763.8L962.4 744.5L963.5 735.3L964.5 735.3L965.0 739.4L966.0 739.4L966.3 798.3L967.5 799.3L968.5 793.2L970.6 792.2L971.1 798.3L972.6 801.3L974.1 803.9L976.2 802.4L977.2 801.3L977.5 792.7L978.5 792.7L978.9 808.0L980.2 808.0L980.5 795.3L982.3 794.2L983.3 764.8L984.3 764.8L984.6 742.9L985.8 742.9L986.3 753.6L987.6 753.6L987.8 735.3L989.1 735.3L989.4 776.0L991.4 777.0L991.9 756.7L993.4 755.6L993.9 744.5L995.5 745.0L996.0 746.5L997.0 738.4L998.0 738.4L998.5 745.5L999.5 746.5L1000.0 774.9L1001.0 774.9L1001.6 766.8L1002.9 766.8L1003.3 791.2L1004.3 791.2L1004.6 767.3L1005.9 767.3L1006.3 778.0L1007.1 778.0L1007.3 772.4L1009.0 772.4L1009.4 782.0L1010.0 783.1L1010.4 807.4L1012.2 807.4L1012.7 801.3L1013.2 794.2L1014.8 794.2L1015.3 800.3L1016.8 802.4L1017.8 804.4L1018.3 793.2L1019.5 793.2L1020.1 806.4L1021.4 807.4L1022.9 806.4L1023.9 808.5L1024.4 802.4L1025.4 802.4L1025.9 808.5L1027.0 808.5L1027.5 800.3L1030.0 800.3L1031.0 799.3L1031.5 757.7L1033.0 755.6L1034.1 748.5L1035.1 745.0L1036.1 745.0L1036.6 752.6L1037.6 753.6L1038.1 766.8L1039.7 767.8L1040.7 768.8L1041.0 752.1L1042.2 752.1L1042.7 755.6L1043.7 755.6L1044.0 779.0L1046.3 780.0L1046.8 791.2L1048.3 791.2L1048.8 773.9L1049.8 772.9L1050.1 752.6L1051.3 752.6L1051.8 762.7L1052.9 763.8L1053.6 765.8L1054.4 766.8L1054.9 779.0L1055.9 780.0L1056.2 793.2L1057.4 793.2L1057.9 770.9L1059.0 770.9L1059.3 756.7L1060.5 756.7L1061.0 757.2L1062.3 755.6L1063.5 755.6L1064.0 798.3L1065.6 800.3L1067.6 803.4L1069.6 806.4L1071.7 809.5L1072.7 811.0L1072.7 811.0ZM1075.2 811.0L1075.2 811.0L1075.2 808.5L1076.2 801.3L1078.3 801.3L1078.8 807.4L1080.3 806.4L1081.8 804.4L1082.8 800.3L1084.9 799.3L1086.4 799.3L1087.4 795.3L1088.9 790.2L1089.9 767.8L1091.0 766.8L1091.5 735.3L1096.8 735.3L1097.3 796.3L1098.6 796.3L1099.1 788.1L1100.1 788.1L1100.6 792.2L1101.6 793.2L1102.1 796.3L1103.1 797.3L1103.7 802.4L1105.2 803.4L1106.7 804.4L1108.2 805.4L1109.7 806.4L1111.3 809.5L1112.3 810.5L1112.8 799.3L1114.3 798.8L1115.8 796.8L1117.4 796.8L1118.4 801.3L1119.4 802.9L1120.2 799.3L1121.4 799.3L1121.9 804.4L1123.5 805.4L1124.5 802.9L1125.5 803.4L1126.5 806.4L1128.5 807.4L1129.6 802.9L1131.1 803.4L1132.1 808.5L1133.6 809.5L1134.6 808.0L1135.7 809.0L1136.7 811.0L1136.7 811.0ZM1147.6 811.0L1147.6 811.0L1147.6 798.8L1148.9 799.3L1149.4 803.4L1150.9 804.4L1152.4 804.4L1153.4 808.5L1154.7 808.5L1155.2 800.3L1157.0 799.8L1158.0 802.4L1159.5 805.4L1162.1 805.4L1162.6 780.0L1163.6 779.0L1164.1 763.3L1165.3 762.7L1165.9 790.2L1167.1 794.2L1168.2 794.2L1169.7 790.2L1171.7 785.1L1173.7 781.0L1175.3 779.0L1176.3 779.0L1177.3 783.1L1179.3 788.1L1181.4 794.2L1182.9 800.3L1184.4 805.4L1185.4 803.4L1186.4 807.4L1187.5 804.4L1188.5 808.0L1189.5 804.4L1189.5 803.7L1190.8 803.7L1190.8 805.1L1192.0 805.1L1192.0 807.5L1193.2 807.5L1193.2 808.7L1194.5 808.7L1194.5 809.0L1195.8 809.0L1195.8 808.8L1197.0 808.8L1197.0 808.4L1198.2 808.4L1198.2 807.9L1199.5 807.9L1199.5 807.3L1200.8 807.3L1200.8 806.6L1202.0 806.6L1202.0 806.9L1203.2 806.9L1203.2 808.8L1204.5 808.8L1204.5 811.0L1204.5 811.0ZM1215.8 811.0L1215.8 811.0L1215.8 805.9L1217.0 805.9L1217.0 805.9L1218.2 805.9L1218.2 807.6L1219.5 807.6L1219.5 805.4L1220.8 805.4L1220.8 807.1L1222.0 807.1L1222.0 809.0L1223.2 809.0L1223.2 809.2L1224.5 809.2L1224.5 809.7L1225.8 809.7L1225.8 809.3L1227.0 809.3L1227.0 809.1L1228.2 809.1L1228.2 809.1L1229.5 809.1L1229.5 809.5L1230.8 809.5L1230.8 808.3L1232.0 808.3L1232.0 807.0L1233.2 807.0L1233.2 803.1L1234.5 803.1L1234.5 799.9L1235.8 799.9L1235.8 799.8L1237.0 799.8L1237.0 807.5L1238.2 807.5L1238.2 810.2L1239.5 810.2L1239.5 810.4L1240.8 810.4L1240.8 810.4L1242.0 810.4L1242.0 810.2L1243.2 810.2L1243.2 809.9L1244.5 809.9L1244.5 809.1L1245.8 809.1L1245.8 807.7L1247.0 807.7L1247.0 806.6L1248.2 806.6L1248.2 806.3L1249.5 806.3L1249.5 806.6L1250.8 806.6L1250.8 802.8L1252.0 802.8L1252.0 803.9L1253.2 803.9L1253.2 811.0L1253.2 811.0ZM1255.8 811.0L1255.8 811.0L1255.8 805.2L1257.0 805.2L1257.0 805.3L1258.2 805.3L1258.2 810.1L1259.5 810.1L1259.5 809.2L1260.8 809.2L1260.8 809.1L1262.0 809.1L1262.0 808.9L1263.2 808.9L1263.2 809.2L1264.5 809.2L1264.5 809.5L1265.8 809.5L1265.8 809.9L1267.0 809.9L1267.0 810.6L1268.2 810.6L1268.2 810.4L1269.5 810.4L1269.5 809.4L1270.8 809.4L1270.8 808.0L1272.0 808.0L1272.0 806.6L1273.2 806.6L1273.2 800.1L1274.5 800.1L1274.5 796.3L1275.8 796.3L1275.8 796.1L1277.0 796.1L1277.0 796.0L1278.2 796.0L1278.2 795.9L1279.5 795.9L1279.5 797.7L1280.8 797.7L1280.8 799.9L1282.0 799.9L1282.0 809.4L1283.2 809.4L1283.2 809.1L1284.5 809.1L1284.5 804.9L1285.8 804.9L1285.8 804.3L1287.0 804.3L1287.0 803.0L1288.2 803.0L1288.2 803.7L1289.5 803.7L1289.5 805.8L1290.8 805.8L1290.8 806.8L1292.0 806.8L1292.0 806.2L1293.2 806.2L1293.2 806.2L1294.5 806.2L1294.5 807.6L1295.8 807.6L1295.8 808.7L1297.0 808.7L1297.0 808.8L1298.2 808.8L1298.2 808.4L1299.5 808.4L1299.5 808.1L1300.8 808.1L1300.8 807.1L1302.0 807.1L1302.0 806.4L1303.2 806.4L1303.2 803.9L1304.5 803.9L1304.5 804.2L1305.8 804.2L1305.8 806.6L1307.0 806.6L1307.0 803.9L1308.2 803.9L1308.2 802.6L1309.5 802.6L1309.5 808.6L1310.8 808.6L1310.8 808.8L1312.0 808.8L1312.0 803.0L1313.2 803.0L1313.2 802.0L1314.5 802.0L1314.5 808.2L1315.8 808.2L1315.8 805.9L1317.0 805.9L1317.0 805.5L1318.2 805.5L1318.2 809.7L1319.5 809.7L1319.5 807.5L1320.8 807.5L1320.8 805.4L1322.0 805.4L1322.0 806.0L1323.2 806.0L1323.2 810.2L1324.5 810.2L1324.5 809.5L1325.8 809.5L1325.8 808.9L1327.0 808.9L1327.0 806.5L1328.2 806.5L1328.2 806.4L1329.5 806.4L1329.5 807.1L1330.8 807.1L1330.8 809.0L1332.0 809.0L1332.0 809.9L1333.2 809.9L1333.2 810.3L1334.5 810.3L1334.5 810.2L1335.8 810.2L1335.8 810.0L1337.0 810.0L1337.0 809.4L1338.2 809.4L1338.2 808.0L1339.5 808.0L1339.5 807.8L1340.8 807.8L1340.8 808.1L1342.0 808.1L1342.0 808.1L1343.2 808.1L1343.2 808.3L1344.5 808.3L1344.5 807.7L1345.8 807.7L1345.8 808.5L1347.0 808.5L1347.0 808.9L1348.2 808.9L1348.2 808.1L1349.5 808.1L1349.5 807.8L1350.8 807.8L1350.8 806.1L1352.0 806.1L1352.0 807.1L1353.2 807.1L1353.2 807.8L1354.5 807.8L1354.5 809.0L1355.8 809.0L1355.8 803.7L1357.0 803.7L1357.0 802.6L1358.2 802.6L1358.2 808.0L1359.5 808.0L1359.5 808.3L1360.8 808.3L1360.8 807.7L1362.0 807.7L1362.0 809.5L1363.2 809.5L1363.2 805.9L1364.5 805.9L1364.5 804.9L1365.8 804.9L1365.8 806.3L1367.0 806.3L1367.0 809.0L1368.2 809.0L1368.2 809.6L1369.5 809.6L1369.5 809.9L1370.8 809.9L1370.8 810.6L1372.0 810.6L1372.0 810.7L1373.2 810.7L1373.2 809.9L1374.5 809.9L1374.5 809.3L1375.8 809.3L1375.8 809.0L1377.0 809.0L1377.0 809.1L1378.2 809.1L1378.2 808.6L1379.5 808.6L1379.5 808.1L1380.8 808.1L1380.8 807.8L1382.0 807.8L1382.0 808.4L1383.2 808.4L1383.2 809.7L1384.5 809.7L1384.5 808.9L1385.8 808.9L1385.8 808.8L1387.0 808.8L1387.0 808.3L1388.2 808.3L1388.2 810.0L1389.5 810.0L1389.5 809.6L1390.8 809.6L1390.8 809.0L1392.0 809.0L1392.0 809.2L1393.2 809.2L1393.2 809.6L1394.5 809.6L1394.5 808.8L1395.8 808.8L1395.8 808.0L1397.0 808.0L1397.0 808.1L1398.2 808.1L1398.2 808.5L1399.5 808.5L1399.5 809.7L1400.8 809.7L1400.8 807.3L1402.0 807.3L1402.0 807.3L1403.2 807.3L1403.2 807.9L1404.5 807.9L1404.5 810.9L1405.8 810.9L1405.8 810.6L1407.0 810.6L1407.0 808.0L1408.2 808.0L1408.2 803.9L1409.5 803.9L1409.5 802.5L1410.8 802.5L1410.8 802.0L1412.0 802.0L1412.0 803.2L1413.2 803.2L1413.2 805.9L1414.5 805.9L1414.5 807.4L1415.8 807.4L1415.8 807.8L1417.0 807.8L1417.0 807.0L1418.2 807.0L1418.2 806.4L1419.5 806.4L1419.5 806.6L1420.8 806.6L1420.8 808.1L1422.0 808.1L1422.0 808.2L1423.2 808.2L1423.2 802.9L1424.5 802.9L1424.5 802.0L1425.8 802.0L1425.8 808.7L1427.0 808.7L1427.0 808.7L1428.2 808.7L1428.2 808.6L1429.5 808.6L1429.5 806.8L1430.8 806.8L1430.8 806.8L1432.0 806.8L1432.0 807.1L1433.2 807.1L1433.2 806.2L1434.5 806.2L1434.5 807.1L1435.8 807.1L1435.8 806.9L1437.0 806.9L1437.0 806.4L1438.2 806.4L1438.2 805.7L1439.5 805.7L1439.5 807.6L1440.8 807.6L1440.8 809.7L1442.0 809.7L1442.0 810.1L1443.2 810.1L1443.2 805.2L1444.5 805.2L1444.5 805.6L1445.8 805.6L1445.8 810.3L1447.0 810.3L1447.0 809.9L1448.2 809.9L1448.2 809.5L1449.5 809.5L1449.5 808.9L1450.8 808.9L1450.8 808.2L1452.0 808.2L1452.0 808.5L1453.2 808.5L1453.2 809.2L1454.5 809.2L1454.5 808.9L1455.8 808.9L1455.8 808.4L1457.0 808.4L1457.0 809.3L1458.2 809.3L1458.2 810.3L1459.5 810.3L1459.5 810.0L1460.8 810.0L1460.8 809.5L1462.0 809.5L1462.0 808.3L1463.2 808.3L1463.2 806.4L1464.5 806.4L1464.5 806.5L1465.8 806.5L1465.8 811.0L1465.8 811.0ZM1469.5 811.0L1469.5 811.0L1469.5 809.7L1470.8 809.7L1470.8 784.8L1472.0 784.8L1472.0 785.2L1473.2 785.2L1473.2 788.8L1474.5 788.8L1474.5 798.8L1475.8 798.8L1475.8 803.4L1477.0 803.4L1477.0 806.6L1478.2 806.6L1478.2 808.1L1479.5 808.1L1479.5 808.5L1480.8 808.5L1480.8 808.6L1482.0 808.6L1482.0 809.0L1483.2 809.0L1483.2 807.5L1484.5 807.5L1484.5 806.6L1485.8 806.6L1485.8 806.7L1487.0 806.7L1487.0 806.8L1488.2 806.8L1488.2 809.5L1489.5 809.5L1489.5 809.0L1490.8 809.0L1490.8 803.7L1492.0 803.7L1492.0 803.7L1493.2 803.7L1493.2 810.4L1494.5 810.4L1494.5 810.7L1495.8 810.7L1495.8 810.9L1497.0 810.9L1497.0 810.5L1498.2 810.5L1498.2 809.7L1499.5 809.7L1499.5 809.0L1500.8 809.0L1500.8 808.5L1502.0 808.5L1502.0 808.3L1503.2 808.3L1503.2 807.3L1504.5 807.3L1504.5 807.0L1505.8 807.0L1505.8 807.2L1507.0 807.2L1507.0 807.6L1508.2 807.6L1508.2 808.0L1509.5 808.0L1509.5 807.9L1510.8 807.9L1510.8 808.2L1512.0 808.2L1512.0 808.0L1513.2 808.0L1513.2 808.1L1514.5 808.1L1514.5 808.1L1515.8 808.1L1515.8 808.1L1517.0 808.1L1517.0 807.6L1518.2 807.6L1518.2 807.2L1519.5 807.2L1519.5 806.5L1520.8 806.5L1520.8 804.6L1522.0 804.6L1522.0 804.1L1523.2 804.1L1523.2 804.8L1524.5 804.8L1524.5 804.1L1525.8 804.1L1525.8 804.1L1527.0 804.1L1527.0 803.1L1528.2 803.1L1528.2 803.3L1529.5 803.3L1529.5 803.5L1530.8 803.5L1530.8 805.5L1532.0 805.5L1532.0 806.9L1533.2 806.9L1533.2 808.2L1534.5 808.2L1534.5 808.5L1535.8 808.5L1535.8 809.0L1537.0 809.0L1537.0 808.9L1538.2 808.9L1538.2 808.8L1539.5 808.8L1539.5 808.3L1540.8 808.3L1540.8 808.7L1542.0 808.7L1542.0 808.9L1543.2 808.9L1543.2 809.3L1544.5 809.3L1544.5 809.1L1545.8 809.1L1545.8 808.7L1547.0 808.7L1547.0 808.2L1548.2 808.2L1548.2 808.4L1549.5 808.4L1549.5 808.7L1550.8 808.7L1550.8 809.0L1552.0 809.0L1552.0 808.6L1553.2 808.6L1553.2 808.1L1554.5 808.1L1554.5 805.8L1555.8 805.8L1555.8 806.5L1557.0 806.5L1557.0 810.0L1557.2 810.0L1557.2 811.0Z" fill="#3b3bf3" stroke="#3b3bf3" stroke-width="0.3" stroke-linejoin="miter"/>
<path d="M667.8 811.0V536.4H670.3V811.0ZM670.2 811.0V719.6H671.2V811.0ZM649.3 811.0V732.9H650.8V811.0ZM806.3 811.0V732.0H808.1V811.0ZM812.4 811.0V733.0H813.8V811.0ZM963.3 811.0V731.5H964.6V811.0ZM987.8 811.0V727.0H989.1V811.0ZM1093.9 811.0V658.8H1096.0V811.0ZM1092.9 811.0V668.0H1096.0V811.0ZM1091.2 811.0V713.2H1096.0V811.0ZM1091.2 811.0V721.3H1097.3V811.0Z" fill="#3b3bf3"/>
<path d="M543.5 781.9H1568.0" stroke="#9cb46a" stroke-width="1.5" fill="none"/>
<path d="M692.2 582L669.1 606.9 M639.6 663.8L648.8 727.8 M602.3 754.4V700.4L659.2 754.4 M795.3 672.7L804.9 726.7 M859.3 645.3L813.5 727.8 M858.6 718.9L831.2 754.4 M963.5 726.7L968.8 648.8L987.7 723.2 M996.2 736L1041.7 700.4L1160.1 754.4M1041.7 700.4V736.7M1009.7 736.7H1074.4 M1196.7 728.5L1177.8 773.3" stroke="#9cb46a" stroke-width="1.3" fill="none" stroke-linejoin="round"/>
<path d="M542.9 536.0V835.4M542.9 825.6h-3.3M542.9 811.0h-5.6M542.9 796.4h-3.3M542.9 781.7h-5.6M542.9 767.1h-3.3M542.9 752.4h-5.6M542.9 737.8h-3.3M542.9 723.1h-5.6M542.9 708.5h-3.3M542.9 693.8h-5.6M542.9 679.2h-3.3M542.9 664.5h-5.6M542.9 649.9h-3.3M542.9 635.3h-5.6M542.9 620.6h-3.3M542.9 606.0h-5.6M542.9 591.3h-3.3M542.9 576.7h-5.6M542.9 562.0h-3.3M542.9 547.4h-5.6" stroke="#4a4a4a" stroke-width="1.25" fill="none"/>
<text transform="translate(536.3 818.7) scale(0.93 1)" font-family="'Liberation Serif', serif" font-size="22.7" fill="#111" stroke="#111" stroke-width="0.3" text-anchor="end">0</text>
<text transform="translate(536.3 789.4) scale(0.93 1)" font-family="'Liberation Serif', serif" font-size="22.7" fill="#111" stroke="#111" stroke-width="0.3" text-anchor="end">1</text>
<text transform="translate(536.3 760.1) scale(0.93 1)" font-family="'Liberation Serif', serif" font-size="22.7" fill="#111" stroke="#111" stroke-width="0.3" text-anchor="end">2</text>
<text transform="translate(536.3 730.8) scale(0.93 1)" font-family="'Liberation Serif', serif" font-size="22.7" fill="#111" stroke="#111" stroke-width="0.3" text-anchor="end">3</text>
<text transform="translate(536.3 701.5) scale(0.93 1)" font-family="'Liberation Serif', serif" font-size="22.7" fill="#111" stroke="#111" stroke-width="0.3" text-anchor="end">4</text>
<text transform="translate(536.3 672.2) scale(0.93 1)" font-family="'Liberation Serif', serif" font-size="22.7" fill="#111" stroke="#111" stroke-width="0.3" text-anchor="end">5</text>
<text transform="translate(536.3 643.0) scale(0.93 1)" font-family="'Liberation Serif', serif" font-size="22.7" fill="#111" stroke="#111" stroke-width="0.3" text-anchor="end">6</text>
<text transform="translate(536.3 613.7) scale(0.93 1)" font-family="'Liberation Serif', serif" font-size="22.7" fill="#111" stroke="#111" stroke-width="0.3" text-anchor="end">7</text>
<text transform="translate(536.3 584.4) scale(0.93 1)" font-family="'Liberation Serif', serif" font-size="22.7" fill="#111" stroke="#111" stroke-width="0.3" text-anchor="end">8</text>
<text transform="translate(536.3 555.1) scale(0.93 1)" font-family="'Liberation Serif', serif" font-size="22.7" fill="#111" stroke="#111" stroke-width="0.3" text-anchor="end">9</text>
<path d="M547.5 840.2H1141.5M1145.5 840.2H1207.0M1213.3 840.2H1569.5M583.0 840.2v3.4M659.2 840.2v3.4M735.4 840.2v3.4M811.6 840.2v3.4M887.8 840.2v3.4M964.0 840.2v3.4M1040.2 840.2v3.4M1116.4 840.2v3.4M1167.8 840.2v3.4M1290.5 840.2v3.4M1366.7 840.2v3.4M1442.8 840.2v3.4M1519.0 840.2v3.4M621.1 840.2v6.2M697.3 840.2v6.2M773.5 840.2v6.2M849.7 840.2v6.2M925.9 840.2v6.2M1002.1 840.2v6.2M1078.3 840.2v6.2M1205.9 840.2v6.2M1252.5 840.2v6.2M1328.6 840.2v6.2M1404.8 840.2v6.2M1480.9 840.2v6.2M1557.0 840.2v6.2M1139.3 842.8000000000001l3.4 -4.4M1145.3 842.8000000000001l3.4 -4.4M1205.9 842.8000000000001l3.4 -4.4M1211.9 842.8000000000001l3.4 -4.4" stroke="#3a3a3a" stroke-width="1.3" fill="none"/>
<text transform="translate(621.1 872.2) scale(0.98 1)" font-family="'Liberation Serif', serif" font-size="22.0" fill="#111" stroke="#111" stroke-width="0.3" text-anchor="middle">1.0</text>
<text transform="translate(697.3 872.2) scale(0.98 1)" font-family="'Liberation Serif', serif" font-size="22.0" fill="#111" stroke="#111" stroke-width="0.3" text-anchor="middle">1.5</text>
<text transform="translate(773.5 872.2) scale(0.98 1)" font-family="'Liberation Serif', serif" font-size="22.0" fill="#111" stroke="#111" stroke-width="0.3" text-anchor="middle">2.0</text>
<text transform="translate(849.7 872.2) scale(0.98 1)" font-family="'Liberation Serif', serif" font-size="22.0" fill="#111" stroke="#111" stroke-width="0.3" text-anchor="middle">2.5</text>
<text transform="translate(925.9 872.2) scale(0.98 1)" font-family="'Liberation Serif', serif" font-size="22.0" fill="#111" stroke="#111" stroke-width="0.3" text-anchor="middle">3.0</text>
<text transform="translate(1002.1 872.2) scale(0.98 1)" font-family="'Liberation Serif', serif" font-size="22.0" fill="#111" stroke="#111" stroke-width="0.3" text-anchor="middle">3.5</text>
<text transform="translate(1078.3 872.2) scale(0.98 1)" font-family="'Liberation Serif', serif" font-size="22.0" fill="#111" stroke="#111" stroke-width="0.3" text-anchor="middle">4.0</text>
<text transform="translate(1205.9 872.2) scale(0.98 1)" font-family="'Liberation Serif', serif" font-size="22.0" fill="#111" stroke="#111" stroke-width="0.3" text-anchor="middle">5.5</text>
<text transform="translate(1252.5 872.2) scale(0.98 1)" font-family="'Liberation Serif', serif" font-size="22.0" fill="#111" stroke="#111" stroke-width="0.3" text-anchor="middle">7.0</text>
<text transform="translate(1328.6 872.2) scale(0.98 1)" font-family="'Liberation Serif', serif" font-size="22.0" fill="#111" stroke="#111" stroke-width="0.3" text-anchor="middle">7.5</text>
<text transform="translate(1404.8 872.2) scale(0.98 1)" font-family="'Liberation Serif', serif" font-size="22.0" fill="#111" stroke="#111" stroke-width="0.3" text-anchor="middle">8.0</text>
<text transform="translate(1480.9 872.2) scale(0.98 1)" font-family="'Liberation Serif', serif" font-size="22.0" fill="#111" stroke="#111" stroke-width="0.3" text-anchor="middle">8.5</text>
<text transform="translate(1557.0 872.2) scale(0.98 1)" font-family="'Liberation Serif', serif" font-size="22.0" fill="#111" stroke="#111" stroke-width="0.3" text-anchor="middle">9.0</text>
<rect x="1569.9" y="848.2" width="6.0" height="34" fill="#fff"/>
<text x="1140.0" y="887.5" font-family="'Liberation Serif', serif" font-size="23.5" fill="#111" stroke="#111" stroke-width="0.3" text-anchor="middle" textLength="45.7" lengthAdjust="spacingAndGlyphs">ppm</text>
<text transform="translate(498.4 696.7) rotate(-90)" font-family="'Liberation Serif', serif" font-size="25.5" fill="#111" stroke="#111" stroke-width="0.3" text-anchor="middle" textLength="110.5" lengthAdjust="spacingAndGlyphs">VIP values</text>
<text x="699.3" y="579.3" font-family="'Liberation Serif', serif" font-size="22.6" fill="#e8141c" stroke="#e8141c" stroke-width="0.3" text-anchor="start" textLength="61.5" lengthAdjust="spacingAndGlyphs">lactate</text>
<text x="815.6" y="635.2" font-family="'Liberation Serif', serif" font-size="22.6" fill="#e8141c" stroke="#e8141c" stroke-width="0.3" text-anchor="start" textLength="113.1" lengthAdjust="spacingAndGlyphs">acetoacetate</text>
<text x="946.4" y="642.3" font-family="'Liberation Serif', serif" font-size="22.6" fill="#e8141c" stroke="#e8141c" stroke-width="0.3" text-anchor="start" textLength="64.8" lengthAdjust="spacingAndGlyphs">taurine</text>
<text x="623.2" y="656.5" font-family="'Liberation Serif', serif" font-size="22.6" fill="#111" stroke="#111" stroke-width="0.3" text-anchor="start" textLength="31.0" lengthAdjust="spacingAndGlyphs">HB</text>
<text x="751.6" y="663.6" font-family="'Liberation Serif', serif" font-size="22.6" fill="#111" stroke="#111" stroke-width="0.3" text-anchor="start" textLength="71.1" lengthAdjust="spacingAndGlyphs">acetone</text>
<text x="578.8" y="689.6" font-family="'Liberation Serif', serif" font-size="22.6" fill="#e8141c" stroke="#e8141c" stroke-width="0.3" text-anchor="start" textLength="51.9" lengthAdjust="spacingAndGlyphs">lipids</text>
<text x="833.4" y="708.4" font-family="'Liberation Serif', serif" font-size="22.6" fill="#e8141c" stroke="#e8141c" stroke-width="0.3" text-anchor="start" textLength="91.7" lengthAdjust="spacingAndGlyphs">glutamate</text>
<text x="681.6" y="758.9" font-family="'Liberation Serif', serif" font-size="22.6" fill="#e8141c" stroke="#e8141c" stroke-width="0.3" text-anchor="start" textLength="33.0" lengthAdjust="spacingAndGlyphs">Ala</text>
<text x="1009.7" y="695.6" font-family="'Liberation Serif', serif" font-size="22.6" fill="#111" stroke="#111" stroke-width="0.3" text-anchor="start" textLength="70.4" lengthAdjust="spacingAndGlyphs">glucose</text>
<text x="1071.9" y="645.1" font-family="'Liberation Serif', serif" font-size="22.6" fill="#e8141c" stroke="#e8141c" stroke-width="0.3" text-anchor="start" textLength="61.1" lengthAdjust="spacingAndGlyphs">lactate</text>
<text x="1171.8" y="718.0" font-family="'Liberation Serif', serif" font-size="22.6" fill="#e8141c" stroke="#e8141c" stroke-width="0.3" text-anchor="start" textLength="51.6" lengthAdjust="spacingAndGlyphs">lipids</text>
</g>
<g>
<rect x="550.0" y="1012.6" width="1021.4000000000001" height="298.4999999999999" fill="#fff" stroke="#dcdcdc" stroke-width="1.4"/>
<path d="M551.0 1302.7H1570.4" stroke="#d0d0d0" stroke-width="1.2" fill="none"/>
<path d="M563.4 1302.7L563.4 1302.7L563.4 1288.0L566.6 1289.9L569.2 1292.5L571.1 1295.0L573.0 1297.6L574.9 1293.8L577.5 1292.5L580.0 1289.3L582.6 1287.4L583.5 1296.3L585.8 1295.0L588.3 1292.5L590.9 1289.9L592.2 1297.6L594.1 1300.1L596.0 1296.9L597.9 1296.3L598.6 1284.8L600.1 1283.5L600.5 1273.9L602.4 1273.3L603.1 1288.6L604.3 1289.9L604.7 1298.9L606.0 1298.9L606.2 1273.3L607.8 1274.6L608.2 1279.7L610.1 1279.7L610.7 1266.9L612.0 1265.6L612.6 1245.8L613.9 1238.1L614.9 1237.5L615.2 1214.5L616.5 1214.5L616.9 1231.1L618.0 1231.1L618.4 1213.9L619.7 1213.9L620.1 1227.9L620.9 1227.3L621.3 1219.6L622.9 1219.6L623.1 1252.8L624.1 1252.8L624.4 1267.5L626.1 1267.5L626.4 1236.2L627.3 1230.5L629.9 1229.2L630.3 1263.7L631.8 1267.5L633.1 1269.5L633.7 1284.8L635.6 1289.9L637.6 1292.5L638.8 1301.4L640.8 1301.4L641.4 1288.6L642.7 1288.6L643.3 1296.3L645.2 1295.0L646.5 1298.9L647.8 1295.0L648.7 1265.6L649.7 1264.4L650.1 1106.5L651.6 1105.8L651.9 1098.8L653.3 1098.8L653.5 1229.8L654.8 1230.5L655.1 1269.5L656.7 1272.0L657.6 1279.7L658.4 1284.8L659.9 1284.8L660.2 1259.2L662.2 1259.2L662.5 1274.6L663.8 1275.9L664.4 1288.6L665.3 1288.6L665.7 1282.9L666.6 1282.9L667.0 1300.1L668.2 1300.1L668.6 1246.5L670.2 1246.5L670.5 1269.5L671.4 1269.5L671.7 1289.9L672.7 1289.9L673.0 1153.1L674.3 1153.1L674.6 1249.0L675.9 1249.6L676.6 1283.5L677.6 1284.8L678.5 1295.0L680.4 1300.1L682.3 1302.1L683.6 1300.1L684.9 1302.1L685.5 1296.3L687.4 1296.3L688.7 1287.4L690.6 1281.0L692.1 1281.0L692.9 1254.1L694.5 1254.8L695.1 1259.2L695.7 1272.7L697.0 1273.3L697.4 1302.1L698.9 1302.1L699.6 1289.9L700.8 1289.9L701.2 1296.3L702.1 1292.5L704.0 1293.1L704.7 1301.4L706.6 1301.4L707.2 1294.4L709.8 1292.5L711.7 1288.0L713.0 1292.5L715.5 1293.8L717.5 1297.6L719.4 1291.2L722.6 1288.6L724.5 1284.8L727.0 1282.2L728.3 1270.7L730.9 1269.5L731.5 1265.0L733.4 1267.5L734.7 1275.9L736.6 1278.4L737.9 1289.9L739.8 1297.6L741.7 1287.4L744.3 1286.1L746.2 1284.2L748.1 1288.0L750.1 1291.2L752.6 1292.5L755.1 1293.8L756.4 1289.9L757.0 1282.2L758.3 1282.2L758.9 1289.9L760.2 1281.0L761.2 1265.6L762.8 1265.0L763.2 1284.8L764.3 1284.8L764.7 1298.9L766.0 1298.9L766.4 1282.2L767.3 1281.0L767.6 1267.5L769.2 1267.5L769.6 1279.7L771.1 1278.4L772.4 1275.9L773.6 1275.9L774.0 1286.1L774.9 1286.1L775.6 1277.1L777.5 1273.3L778.8 1264.4L779.7 1263.1L780.0 1224.1L781.3 1224.1L781.7 1238.8L782.6 1239.4L783.0 1266.9L783.9 1267.5L784.5 1263.7L785.8 1264.4L787.1 1268.2L787.7 1287.4L789.0 1293.8L790.9 1292.5L792.2 1283.5L793.5 1282.2L794.1 1272.0L795.0 1272.0L795.4 1187.0L796.7 1187.0L797.0 1231.8L797.9 1232.4L798.3 1252.8L799.2 1252.8L799.9 1267.5L801.1 1268.2L801.8 1274.6L802.7 1275.2L803.1 1289.9L805.0 1289.9L805.6 1272.0L806.9 1270.7L807.3 1229.2L808.5 1229.2L808.8 1090.5L810.7 1090.5L811.1 1254.1L812.0 1254.8L812.4 1266.9L813.3 1266.3L814.6 1263.1L815.2 1151.9L816.5 1148.7L817.8 1148.7L818.1 1221.5L819.0 1222.2L819.4 1238.1L820.9 1238.1L821.3 1220.9L822.2 1220.9L822.5 1214.5L823.9 1214.5L824.1 1273.3L825.2 1273.9L825.7 1298.9L826.7 1298.9L827.1 1281.6L827.7 1281.6L828.0 1298.9L828.6 1298.9L829.0 1281.6L829.9 1281.6L830.3 1213.9L831.6 1213.9L831.8 1229.8L833.1 1229.8L833.7 1224.7L835.0 1220.9L836.3 1222.2L837.6 1226.0L838.2 1234.3L839.5 1234.9L840.1 1269.5L841.4 1270.1L841.8 1282.2L842.3 1282.2L842.7 1244.5L844.0 1245.2L845.2 1246.5L845.6 1282.2L847.2 1282.2L847.8 1279.7L848.4 1284.8L849.7 1288.6L850.3 1298.9L851.6 1298.9L852.3 1292.5L853.5 1292.5L854.2 1296.3L854.8 1288.6L856.1 1282.9L857.4 1282.2L858.0 1287.4L859.9 1288.6L861.2 1284.8L863.1 1284.8L865.0 1282.2L867.0 1282.2L868.2 1284.8L870.2 1286.1L870.8 1298.9L874.0 1298.9L874.4 1265.6L875.9 1265.6L876.3 1289.9L877.6 1289.9L877.8 1277.8L879.1 1277.8L879.8 1286.1L881.0 1286.1L881.7 1301.4L882.9 1301.4L884.2 1296.3L886.1 1293.8L887.4 1295.0L888.7 1289.9L890.0 1297.6L891.3 1301.4L893.2 1300.1L894.5 1292.5L896.4 1293.8L898.3 1296.3L900.2 1291.2L902.8 1287.4L905.3 1282.2L906.6 1284.8L908.5 1288.6L910.4 1293.8L911.7 1297.6L913.0 1288.6L914.9 1287.4L915.5 1276.5L916.8 1276.5L917.5 1296.3L919.4 1292.5L920.7 1286.1L922.6 1287.4L924.5 1284.8L926.4 1286.1L927.7 1293.8L929.6 1298.9L930.2 1189.6L932.2 1189.6L932.5 1201.1L933.8 1201.1L934.1 1268.2L935.1 1268.2L935.4 1295.0L937.3 1292.5L938.6 1287.4L940.2 1281.0L941.7 1283.5L943.0 1300.1L944.3 1289.9L946.2 1286.1L948.1 1288.0L950.1 1284.8L951.9 1283.5L953.2 1281.0L954.5 1280.3L954.9 1301.4L956.6 1301.4L957.0 1281.0L957.9 1279.7L958.3 1250.9L960.9 1250.3L961.2 1178.1L962.5 1178.1L962.8 1192.1L963.8 1192.1L964.1 1144.8L965.3 1144.8L965.7 1196.6L967.0 1196.6L967.3 1145.5L968.9 1145.5L969.2 1222.2L969.8 1222.8L970.2 1273.3L971.7 1275.9L973.0 1278.4L973.6 1297.6L975.6 1300.1L976.2 1296.3L977.5 1292.5L978.8 1288.6L979.7 1273.3L980.7 1272.7L981.1 1221.5L982.3 1221.5L982.6 1289.3L983.9 1289.3L984.3 1238.8L985.2 1238.8L985.5 1196.0L986.4 1195.3L986.8 1090.5L988.3 1090.5L988.7 1239.4L989.9 1239.4L990.3 1191.5L991.5 1191.5L991.9 1223.4L992.8 1224.1L993.2 1234.3L994.5 1234.3L994.7 1162.1L996.0 1161.4L996.3 1145.5L997.6 1145.5L997.9 1162.1L999.2 1161.4L999.6 1141.6L1000.5 1141.0L1000.7 1094.3L1002.2 1094.3L1002.4 1270.7L1003.7 1270.7L1003.9 1186.4L1005.2 1186.4L1005.6 1227.3L1006.9 1227.3L1007.3 1197.9L1008.2 1197.2L1008.4 1187.7L1009.7 1187.7L1010.1 1213.2L1011.1 1213.2L1011.6 1231.1L1012.6 1231.1L1013.3 1284.8L1014.6 1289.9L1015.5 1296.3L1016.2 1301.4L1017.1 1301.4L1017.5 1276.5L1018.8 1275.9L1019.3 1270.1L1020.9 1269.5L1021.6 1280.3L1022.9 1280.3L1023.2 1245.2L1024.5 1245.2L1025.0 1255.4L1026.3 1255.4L1026.7 1242.0L1028.0 1242.0L1028.2 1302.1L1029.9 1302.1L1030.3 1296.3L1030.9 1296.3L1031.2 1234.3L1033.1 1234.3L1033.3 1204.9L1034.1 1204.9L1034.4 1111.0L1035.9 1111.0L1036.3 1204.9L1037.2 1204.9L1037.4 1167.2L1038.8 1167.2L1039.2 1225.4L1039.9 1226.0L1040.2 1277.1L1041.8 1277.1L1042.0 1265.6L1043.6 1265.6L1044.0 1267.5L1045.6 1266.9L1046.1 1286.1L1047.8 1286.1L1048.2 1270.1L1049.1 1269.5L1049.7 1250.9L1051.0 1250.3L1051.6 1244.5L1052.3 1243.9L1052.5 1181.3L1053.9 1181.3L1054.3 1244.5L1055.1 1244.5L1055.5 1216.4L1056.7 1216.4L1057.1 1272.0L1058.0 1279.7L1058.4 1288.0L1059.7 1288.0L1059.9 1188.3L1061.5 1188.3L1061.9 1219.6L1062.7 1219.6L1063.1 1208.1L1064.4 1208.1L1064.8 1238.8L1065.7 1238.8L1066.1 1288.0L1067.4 1288.0L1067.6 1185.7L1069.1 1185.7L1069.5 1263.1L1070.4 1263.1L1070.8 1300.1L1073.4 1300.1L1073.7 1271.4L1075.0 1271.4L1075.5 1289.9L1076.8 1289.9L1077.2 1286.1L1078.1 1285.4L1078.5 1279.7L1079.8 1280.3L1080.4 1284.8L1081.7 1289.9L1082.9 1296.3L1084.2 1302.1L1085.8 1302.1L1086.1 1286.1L1087.4 1286.1L1087.8 1301.4L1090.4 1301.4L1090.9 1281.0L1091.9 1281.0L1092.1 1258.0L1093.8 1258.0L1094.5 1260.5L1095.1 1269.5L1096.4 1270.1L1096.8 1286.1L1098.3 1286.1L1098.5 1279.7L1099.6 1279.7L1099.9 1223.4L1102.1 1223.4L1102.5 1237.5L1103.7 1237.5L1104.0 1253.5L1105.3 1253.5L1106.0 1275.9L1107.2 1277.1L1107.9 1281.0L1109.2 1291.2L1111.1 1293.8L1113.6 1294.4L1114.9 1292.5L1115.2 1278.4L1116.4 1278.4L1116.8 1292.5L1118.5 1291.8L1118.7 1283.5L1119.4 1283.5L1119.6 1277.1L1120.7 1277.1L1121.0 1301.4L1122.3 1301.4L1122.6 1256.0L1123.9 1256.0L1124.1 1268.2L1125.8 1268.2L1126.2 1256.0L1127.3 1256.0L1127.7 1282.2L1129.0 1283.5L1129.6 1300.1L1130.9 1295.0L1131.5 1284.8L1132.8 1284.8L1133.4 1293.8L1134.7 1289.9L1136.0 1289.9L1136.6 1302.7L1136.6 1302.7ZM1139.2 1302.7L1139.2 1302.7L1139.2 1296.9L1141.1 1296.9L1141.5 1302.7L1141.5 1302.7ZM1149.2 1302.7L1149.2 1302.7L1149.2 1277.8L1150.1 1277.8L1151.9 1282.2L1153.2 1284.8L1155.1 1284.8L1155.8 1292.5L1157.4 1292.5L1157.9 1288.6L1159.6 1288.0L1160.9 1291.2L1161.5 1301.4L1163.4 1301.4L1163.8 1286.1L1165.1 1286.1L1165.3 1159.5L1166.6 1159.5L1166.9 1199.2L1167.9 1199.2L1168.2 1300.1L1169.4 1300.1L1169.8 1286.1L1171.1 1285.4L1171.5 1274.6L1172.8 1274.6L1173.3 1267.5L1174.3 1266.9L1174.9 1261.8L1176.2 1263.1L1177.5 1266.9L1178.8 1277.1L1180.0 1283.5L1182.6 1283.5L1183.2 1289.9L1185.2 1292.5L1186.4 1296.3L1187.3 1296.3L1187.7 1276.5L1189.4 1276.5L1189.6 1283.5L1190.7 1283.5L1191.2 1291.2L1191.9 1291.8L1192.4 1300.1L1194.1 1298.9L1196.7 1298.2L1199.2 1299.5L1200.5 1297.6L1201.8 1298.2L1202.4 1302.1L1203.9 1302.1L1204.3 1295.7L1206.2 1295.0L1206.9 1296.9L1207.8 1302.7L1207.8 1302.7ZM1219.3 1302.7L1219.3 1302.7L1219.3 1296.9L1220.9 1297.6L1222.2 1300.1L1224.1 1299.5L1226.1 1300.1L1228.0 1301.4L1229.9 1302.7L1229.9 1302.7ZM1234.4 1302.7L1234.4 1302.7L1234.4 1302.1L1235.9 1301.4L1236.3 1279.7L1237.6 1278.4L1238.8 1275.9L1239.2 1270.7L1240.8 1270.7L1241.0 1296.9L1242.0 1297.6L1242.7 1302.1L1243.6 1302.1L1244.0 1296.9L1244.9 1296.9L1245.2 1302.1L1246.5 1301.4L1247.2 1298.2L1249.1 1298.2L1249.5 1302.1L1251.0 1302.1L1251.4 1296.3L1252.6 1296.3L1252.9 1301.4L1254.2 1301.4L1254.4 1291.2L1255.8 1291.2L1256.1 1302.1L1258.4 1302.1L1258.9 1295.7L1260.2 1295.7L1260.6 1301.4L1262.5 1300.8L1263.8 1298.2L1265.7 1298.9L1267.0 1296.3L1268.2 1296.9L1268.9 1295.7L1270.2 1295.7L1270.8 1300.1L1271.4 1296.3L1273.0 1296.3L1273.4 1302.1L1275.9 1302.1L1276.3 1296.3L1276.8 1296.3L1277.2 1288.6L1278.5 1288.6L1278.9 1296.3L1280.1 1296.3L1280.4 1270.7L1281.7 1270.7L1282.1 1274.6L1284.5 1274.6L1284.9 1300.1L1286.1 1300.1L1286.8 1297.6L1288.7 1295.7L1290.6 1295.0L1291.3 1299.5L1292.5 1301.4L1294.2 1301.4L1294.5 1298.9L1296.4 1298.9L1296.8 1302.1L1300.2 1302.1L1301.5 1300.1L1301.9 1284.8L1304.0 1284.8L1304.4 1277.8L1306.0 1277.8L1306.2 1293.1L1307.5 1293.8L1308.5 1296.3L1309.8 1295.0L1310.8 1289.3L1313.0 1289.3L1313.4 1302.1L1315.5 1302.1L1315.9 1293.8L1316.8 1293.1L1317.2 1283.5L1318.5 1282.9L1318.7 1278.4L1320.0 1278.4L1320.3 1288.0L1321.3 1288.6L1321.9 1300.1L1323.9 1301.4L1326.4 1300.8L1329.0 1302.1L1330.2 1300.1L1330.9 1295.7L1332.2 1295.7L1332.8 1301.4L1334.7 1302.1L1335.4 1299.5L1337.3 1299.5L1337.9 1302.1L1337.9 1302.0L1339.2 1302.0L1339.2 1302.1L1340.4 1302.1L1340.4 1301.5L1341.7 1301.5L1341.7 1300.4L1342.9 1300.4L1342.9 1300.3L1344.2 1300.3L1344.2 1301.2L1345.4 1301.2L1345.4 1301.8L1346.7 1301.8L1346.7 1300.7L1347.9 1300.7L1347.9 1299.7L1349.2 1299.7L1349.2 1300.1L1350.4 1300.1L1350.4 1300.1L1351.7 1300.1L1351.7 1295.1L1352.9 1295.1L1352.9 1298.6L1354.2 1298.6L1354.2 1300.0L1355.4 1300.0L1355.4 1298.3L1356.7 1298.3L1356.7 1298.0L1357.9 1298.0L1357.9 1297.0L1359.2 1297.0L1359.2 1296.9L1360.4 1296.9L1360.4 1297.7L1361.7 1297.7L1361.7 1299.2L1362.9 1299.2L1362.9 1299.8L1364.2 1299.8L1364.2 1300.3L1365.4 1300.3L1365.4 1299.9L1366.7 1299.9L1366.7 1298.8L1367.9 1298.8L1367.9 1299.0L1369.2 1299.0L1369.2 1302.1L1370.4 1302.1L1370.4 1302.7L1370.4 1302.7ZM1372.9 1302.7L1372.9 1302.7L1372.9 1298.8L1374.2 1298.8L1374.2 1298.9L1375.4 1298.9L1375.4 1301.8L1376.7 1301.8L1376.7 1300.4L1377.9 1300.4L1377.9 1299.1L1379.2 1299.1L1379.2 1296.7L1380.4 1296.7L1380.4 1293.2L1381.7 1293.2L1381.7 1286.9L1382.9 1286.9L1382.9 1287.2L1384.2 1287.2L1384.2 1298.9L1385.4 1298.9L1385.4 1299.0L1386.7 1299.0L1386.7 1294.8L1387.9 1294.8L1387.9 1294.3L1389.2 1294.3L1389.2 1296.3L1390.4 1296.3L1390.4 1294.6L1391.7 1294.6L1391.7 1299.9L1392.9 1299.9L1392.9 1300.6L1394.2 1300.6L1394.2 1301.2L1395.4 1301.2L1395.4 1301.5L1396.7 1301.5L1396.7 1302.2L1397.9 1302.2L1397.9 1302.0L1399.2 1302.0L1399.2 1300.0L1400.4 1300.0L1400.4 1299.1L1401.7 1299.1L1401.7 1299.2L1402.9 1299.2L1402.9 1299.2L1404.2 1299.2L1404.2 1298.8L1405.4 1298.8L1405.4 1297.8L1406.7 1297.8L1406.7 1297.5L1407.9 1297.5L1407.9 1298.6L1409.2 1298.6L1409.2 1295.6L1410.4 1295.6L1410.4 1294.4L1411.7 1294.4L1411.7 1295.5L1412.9 1295.5L1412.9 1294.2L1414.2 1294.2L1414.2 1296.0L1415.4 1296.0L1415.4 1296.1L1416.7 1296.1L1416.7 1295.5L1417.9 1295.5L1417.9 1296.1L1419.2 1296.1L1419.2 1298.5L1420.4 1298.5L1420.4 1298.3L1421.7 1298.3L1421.7 1285.9L1422.9 1285.9L1422.9 1285.5L1424.2 1285.5L1424.2 1296.8L1425.4 1296.8L1425.4 1286.3L1426.7 1286.3L1426.7 1286.3L1427.9 1286.3L1427.9 1291.9L1429.2 1291.9L1429.2 1297.6L1430.4 1297.6L1430.4 1302.7L1430.4 1302.7ZM1434.2 1302.7L1434.2 1302.7L1434.2 1300.1L1435.4 1300.1L1435.4 1295.8L1436.7 1295.8L1436.7 1296.9L1437.9 1296.9L1437.9 1302.0L1439.2 1302.0L1439.2 1302.0L1440.4 1302.0L1440.4 1297.3L1441.7 1297.3L1441.7 1298.1L1442.9 1298.1L1442.9 1300.1L1444.2 1300.1L1444.2 1301.2L1445.4 1301.2L1445.4 1296.7L1446.7 1296.7L1446.7 1295.6L1447.9 1295.6L1447.9 1298.6L1449.2 1298.6L1449.2 1295.6L1450.4 1295.6L1450.4 1295.8L1451.7 1295.8L1451.7 1301.0L1452.9 1301.0L1452.9 1295.4L1454.2 1295.4L1454.2 1299.8L1455.4 1299.8L1455.4 1301.9L1456.7 1301.9L1456.7 1301.5L1457.9 1301.5L1457.9 1300.4L1459.2 1300.4L1459.2 1300.5L1460.4 1300.5L1460.4 1299.6L1461.7 1299.6L1461.7 1297.4L1462.9 1297.4L1462.9 1298.1L1464.2 1298.1L1464.2 1297.0L1465.4 1297.0L1465.4 1297.3L1466.7 1297.3L1466.7 1297.9L1467.9 1297.9L1467.9 1297.4L1469.2 1297.4L1469.2 1302.7L1469.2 1302.7ZM1472.9 1302.7L1472.9 1302.7L1472.9 1291.3L1474.2 1291.3L1474.2 1291.6L1475.4 1291.6L1475.4 1285.0L1476.7 1285.0L1476.7 1296.0L1477.9 1296.0L1477.9 1295.2L1479.2 1295.2L1479.2 1292.0L1480.4 1292.0L1480.4 1297.1L1481.7 1297.1L1481.7 1291.2L1482.9 1291.2L1482.9 1292.2L1484.2 1292.2L1484.2 1298.3L1485.4 1298.3L1485.4 1298.5L1486.7 1298.5L1486.7 1300.1L1487.9 1300.1L1487.9 1301.8L1489.2 1301.8L1489.2 1301.4L1490.4 1301.4L1490.4 1300.4L1491.7 1300.4L1491.7 1298.9L1492.9 1298.9L1492.9 1298.9L1494.2 1298.9L1494.2 1296.6L1495.4 1296.6L1495.4 1294.3L1496.7 1294.3L1496.7 1294.9L1497.9 1294.9L1497.9 1300.5L1499.2 1300.5L1499.2 1300.8L1500.4 1300.8L1500.4 1301.3L1501.7 1301.3L1501.7 1301.4L1502.9 1301.4L1502.9 1301.9L1504.2 1301.9L1504.2 1301.8L1505.4 1301.8L1505.4 1301.6L1506.7 1301.6L1506.7 1298.8L1507.9 1298.8L1507.9 1297.7L1509.2 1297.7L1509.2 1299.9L1510.4 1299.9L1510.4 1301.8L1511.7 1301.8L1511.7 1301.3L1512.9 1301.3L1512.9 1301.0L1514.2 1301.0L1514.2 1299.9L1515.4 1299.9L1515.4 1299.2L1516.7 1299.2L1516.7 1298.6L1517.9 1298.6L1517.9 1300.1L1519.2 1300.1L1519.2 1297.8L1520.4 1297.8L1520.4 1297.0L1521.7 1297.0L1521.7 1298.4L1522.9 1298.4L1522.9 1298.6L1524.2 1298.6L1524.2 1295.8L1525.4 1295.8L1525.4 1296.6L1526.7 1296.6L1526.7 1301.3L1527.9 1301.3L1527.9 1301.6L1529.2 1301.6L1529.2 1300.2L1530.4 1300.2L1530.4 1298.3L1531.7 1298.3L1531.7 1298.3L1532.9 1298.3L1532.9 1292.8L1534.2 1292.8L1534.2 1293.6L1535.4 1293.6L1535.4 1296.9L1536.7 1296.9L1536.7 1299.1L1537.9 1299.1L1537.9 1300.0L1539.2 1300.0L1539.2 1300.9L1540.4 1300.9L1540.4 1301.4L1541.7 1301.4L1541.7 1300.7L1542.9 1300.7L1542.9 1300.6L1544.2 1300.6L1544.2 1300.9L1545.4 1300.9L1545.4 1301.0L1546.7 1301.0L1546.7 1300.3L1547.9 1300.3L1547.9 1300.8L1549.2 1300.8L1549.2 1301.0L1550.4 1301.0L1550.4 1298.7L1551.7 1298.7L1551.7 1298.8L1552.9 1298.8L1552.9 1295.3L1554.2 1295.3L1554.2 1295.2L1555.4 1295.2L1555.4 1300.9L1556.7 1300.9L1556.7 1302.7L1556.7 1302.7ZM1557.9 1302.7L1557.9 1302.7L1557.9 1296.0L1559.2 1296.0L1559.2 1298.8L1560.1 1298.8L1560.1 1302.7Z" fill="#3b3bf3" stroke="#3b3bf3" stroke-width="0.3" stroke-linejoin="miter"/>
<path d="M808.8 1302.7V1048.8H810.7V1302.7ZM986.8 1302.7V1082.3H988.3V1302.7Z" fill="#3b3bf3"/>
<path d="M546.1 1259.0H1570.4" stroke="#9cb46a" stroke-width="1.5" fill="none"/>
<path d="M665.2 1059.2L651.7 1092.9 M600.5 1151.6L621.1 1205.3M611.2 1205.3H630 M716 1177.6L679.1 1201.7 M870.7 1086.9L816.7 1143.1 M862.2 1168.7L845.1 1219.2M836.2 1219.2H854 M933.3 1184.7V1146.6L1069 1201.7 M966 1136.7L971.3 1058.4L999.8 1140.2 M1063 1058.4L989.1 1076.2 M1071.2 1066.6L1015.8 1094.7 M1090 1066.6L1044.2 1121.7 M1098.9 1066.6L1062.3 1176.5 M1116.3 1060.9L1162.6 1149.8" stroke="#9cb46a" stroke-width="1.3" fill="none" stroke-linejoin="round"/>
<path d="M545.5 1012.1V1311.1M545.5 1302.7h-5.6M545.5 1281.1h-3.3M545.5 1259.5h-5.6M545.5 1237.9h-3.3M545.5 1216.3h-5.6M545.5 1194.7h-3.3M545.5 1173.1h-5.6M545.5 1151.5h-3.3M545.5 1129.9h-5.6M545.5 1108.3h-3.3M545.5 1086.7h-5.6M545.5 1065.1h-3.3M545.5 1043.5h-5.6M545.5 1021.9h-3.3" stroke="#4a4a4a" stroke-width="1.25" fill="none"/>
<text transform="translate(538.5 1310.4) scale(0.95 1)" font-family="'Liberation Serif', serif" font-size="22.3" fill="#111" stroke="#111" stroke-width="0.3" text-anchor="end">0</text>
<text transform="translate(538.5 1267.2) scale(0.95 1)" font-family="'Liberation Serif', serif" font-size="22.3" fill="#111" stroke="#111" stroke-width="0.3" text-anchor="end">1</text>
<text transform="translate(538.5 1224.0) scale(0.95 1)" font-family="'Liberation Serif', serif" font-size="22.3" fill="#111" stroke="#111" stroke-width="0.3" text-anchor="end">2</text>
<text transform="translate(538.5 1180.8) scale(0.95 1)" font-family="'Liberation Serif', serif" font-size="22.3" fill="#111" stroke="#111" stroke-width="0.3" text-anchor="end">3</text>
<text transform="translate(538.5 1137.6) scale(0.95 1)" font-family="'Liberation Serif', serif" font-size="22.3" fill="#111" stroke="#111" stroke-width="0.3" text-anchor="end">4</text>
<text transform="translate(538.5 1094.4) scale(0.95 1)" font-family="'Liberation Serif', serif" font-size="22.3" fill="#111" stroke="#111" stroke-width="0.3" text-anchor="end">5</text>
<text transform="translate(538.5 1051.2) scale(0.95 1)" font-family="'Liberation Serif', serif" font-size="22.3" fill="#111" stroke="#111" stroke-width="0.3" text-anchor="end">6</text>
<path d="M550.0 1316.0H1143.5M1147.5 1316.0H1209.2M1215.5 1316.0H1572.0M585.1 1316.0v3.4M661.3 1316.0v3.4M737.5 1316.0v3.4M813.7 1316.0v3.4M889.9 1316.0v3.4M966.1 1316.0v3.4M1042.3 1316.0v3.4M1118.5 1316.0v3.4M1170.0 1316.0v3.4M1293.0 1316.0v3.4M1369.2 1316.0v3.4M1445.3 1316.0v3.4M1521.4 1316.0v3.4M623.2 1316.0v6.2M699.4 1316.0v6.2M775.6 1316.0v6.2M851.8 1316.0v6.2M928.0 1316.0v6.2M1004.2 1316.0v6.2M1080.4 1316.0v6.2M1208.1 1316.0v6.2M1255.0 1316.0v6.2M1331.1 1316.0v6.2M1407.2 1316.0v6.2M1483.4 1316.0v6.2M1559.5 1316.0v6.2M1141.3 1318.6l3.4 -4.4M1147.3 1318.6l3.4 -4.4M1208.1 1318.6l3.4 -4.4M1214.1 1318.6l3.4 -4.4" stroke="#3a3a3a" stroke-width="1.3" fill="none"/>
<text transform="translate(623.2 1347.7) scale(0.98 1)" font-family="'Liberation Serif', serif" font-size="22.0" fill="#111" stroke="#111" stroke-width="0.3" text-anchor="middle">1.0</text>
<text transform="translate(699.4 1347.7) scale(0.98 1)" font-family="'Liberation Serif', serif" font-size="22.0" fill="#111" stroke="#111" stroke-width="0.3" text-anchor="middle">1.5</text>
<text transform="translate(775.6 1347.7) scale(0.98 1)" font-family="'Liberation Serif', serif" font-size="22.0" fill="#111" stroke="#111" stroke-width="0.3" text-anchor="middle">2.0</text>
<text transform="translate(851.8 1347.7) scale(0.98 1)" font-family="'Liberation Serif', serif" font-size="22.0" fill="#111" stroke="#111" stroke-width="0.3" text-anchor="middle">2.5</text>
<text transform="translate(928.0 1347.7) scale(0.98 1)" font-family="'Liberation Serif', serif" font-size="22.0" fill="#111" stroke="#111" stroke-width="0.3" text-anchor="middle">3.0</text>
<text transform="translate(1004.2 1347.7) scale(0.98 1)" font-family="'Liberation Serif', serif" font-size="22.0" fill="#111" stroke="#111" stroke-width="0.3" text-anchor="middle">3.5</text>
<text transform="translate(1080.4 1347.7) scale(0.98 1)" font-family="'Liberation Serif', serif" font-size="22.0" fill="#111" stroke="#111" stroke-width="0.3" text-anchor="middle">4.0</text>
<text transform="translate(1208.1 1347.7) scale(0.98 1)" font-family="'Liberation Serif', serif" font-size="22.0" fill="#111" stroke="#111" stroke-width="0.3" text-anchor="middle">5.5</text>
<text transform="translate(1255.0 1347.7) scale(0.98 1)" font-family="'Liberation Serif', serif" font-size="22.0" fill="#111" stroke="#111" stroke-width="0.3" text-anchor="middle">7.0</text>
<text transform="translate(1331.1 1347.7) scale(0.98 1)" font-family="'Liberation Serif', serif" font-size="22.0" fill="#111" stroke="#111" stroke-width="0.3" text-anchor="middle">7.5</text>
<text transform="translate(1407.2 1347.7) scale(0.98 1)" font-family="'Liberation Serif', serif" font-size="22.0" fill="#111" stroke="#111" stroke-width="0.3" text-anchor="middle">8.0</text>
<text transform="translate(1483.4 1347.7) scale(0.98 1)" font-family="'Liberation Serif', serif" font-size="22.0" fill="#111" stroke="#111" stroke-width="0.3" text-anchor="middle">8.5</text>
<text transform="translate(1559.5 1347.7) scale(0.98 1)" font-family="'Liberation Serif', serif" font-size="22.0" fill="#111" stroke="#111" stroke-width="0.3" text-anchor="middle">9.0</text>
<rect x="1572.3" y="1324.0" width="3.599999999999909" height="34" fill="#fff"/>
<text x="1142.5" y="1364.0" font-family="'Liberation Serif', serif" font-size="23.5" fill="#111" stroke="#111" stroke-width="0.3" text-anchor="middle" textLength="45.7" lengthAdjust="spacingAndGlyphs">ppm</text>
<text transform="translate(501.3 1173.1) rotate(-90)" font-family="'Liberation Serif', serif" font-size="25" fill="#111" stroke="#111" stroke-width="0.3" text-anchor="middle" textLength="110.5" lengthAdjust="spacingAndGlyphs">VIP values</text>
<text x="781.8" y="1039.8" font-family="'Liberation Serif', serif" font-size="22.6" fill="#111" stroke="#111" stroke-width="0.3" text-anchor="start" textLength="71.5" lengthAdjust="spacingAndGlyphs">acetone</text>
<text x="652.0" y="1054.7" font-family="'Liberation Serif', serif" font-size="22.6" fill="#e8141c" stroke="#e8141c" stroke-width="0.3" text-anchor="start" textLength="31.3" lengthAdjust="spacingAndGlyphs">HB</text>
<text x="946.4" y="1052.2" font-family="'Liberation Serif', serif" font-size="22.6" fill="#e8141c" stroke="#e8141c" stroke-width="0.3" text-anchor="start" textLength="64.8" lengthAdjust="spacingAndGlyphs">taurine</text>
<text x="827.3" y="1076.1" font-family="'Liberation Serif', serif" font-size="22.6" fill="#e8141c" stroke="#e8141c" stroke-width="0.3" text-anchor="start" textLength="113.8" lengthAdjust="spacingAndGlyphs">acetoacetate</text>
<text x="562.8" y="1112.7" font-family="'Liberation Serif', serif" font-size="22.6" fill="#e8141c" stroke="#e8141c" stroke-width="0.3" text-anchor="start" textLength="75.0" lengthAdjust="spacingAndGlyphs">Leu/Ileu</text>
<text x="585.6" y="1138.6" font-family="'Liberation Serif', serif" font-size="22.6" fill="#e8141c" stroke="#e8141c" stroke-width="0.3" text-anchor="start" textLength="30.2" lengthAdjust="spacingAndGlyphs">Val</text>
<text x="882.4" y="1138.3" font-family="'Liberation Serif', serif" font-size="22.6" fill="#e8141c" stroke="#e8141c" stroke-width="0.3" text-anchor="start" textLength="72.9" lengthAdjust="spacingAndGlyphs">creatine</text>
<text x="823.8" y="1163.5" font-family="'Liberation Serif', serif" font-size="22.6" fill="#e8141c" stroke="#e8141c" stroke-width="0.3" text-anchor="start" textLength="93.1" lengthAdjust="spacingAndGlyphs">glutamine</text>
<text x="689.7" y="1167.8" font-family="'Liberation Serif', serif" font-size="22.6" fill="#111" stroke="#111" stroke-width="0.3" text-anchor="start" textLength="61.9" lengthAdjust="spacingAndGlyphs">lactate</text>
<text x="681.6" y="1243.2" font-family="'Liberation Serif', serif" font-size="22.6" fill="#111" stroke="#111" stroke-width="0.3" text-anchor="start" textLength="33.0" lengthAdjust="spacingAndGlyphs">Ala</text>
<text x="1073.7" y="1048.7" font-family="'Liberation Serif', serif" font-size="22.6" fill="#e8141c" stroke="#e8141c" stroke-width="0.3" text-anchor="start" textLength="70.0" lengthAdjust="spacingAndGlyphs">glucose</text>
<text x="1082.6" y="1214.0" font-family="'Liberation Serif', serif" font-size="22.6" fill="#111" stroke="#111" stroke-width="0.3" text-anchor="start" textLength="61.5" lengthAdjust="spacingAndGlyphs">lactate</text>
</g>
<text transform="translate(479.9 22.6) scale(0.94 1)" font-family="'Liberation Sans', sans-serif" font-size="29.2" font-weight="bold" fill="#000">B</text>
<text transform="translate(482.0 506.0) scale(0.97 1)" font-family="'Liberation Sans', sans-serif" font-size="28.6" font-weight="bold" fill="#000">D</text>
<text transform="translate(481.9 981.7) scale(0.97 1)" font-family="'Liberation Sans', sans-serif" font-size="28.6" font-weight="bold" fill="#000">F</text>
<text transform="translate(490.4 1435.7) scale(0.97 1)" font-family="'Liberation Sans', sans-serif" font-size="28.6" font-weight="bold" fill="#000">G</text>
<ellipse cx="923.1" cy="1589.4" rx="205.6" ry="126.6" fill="none" stroke="#1fa24a" stroke-width="3.6"/>
<ellipse cx="1123.5" cy="1589.4" rx="213.3" ry="126.6" fill="none" stroke="#1fa24a" stroke-width="3.6"/>
<text x="788.4" y="1541.9" font-family="'Liberation Sans', sans-serif" font-size="25.5" fill="#111" stroke="#111" stroke-width="0.3" textLength="62.5" lengthAdjust="spacingAndGlyphs">lipids</text>
<text transform="translate(868.0 1546.2) scale(1.5 1)" font-family="'DejaVu Sans', 'Liberation Sans', sans-serif" font-weight="200" font-size="33" fill="#111" text-anchor="middle">↓</text>
<text x="779.3" y="1576.9" font-family="'Liberation Sans', sans-serif" font-size="25.5" fill="#111" stroke="#111" stroke-width="0.3" textLength="79.6" lengthAdjust="spacingAndGlyphs">lactate</text>
<text transform="translate(876.7 1581.2) scale(1.5 1)" font-family="'DejaVu Sans', 'Liberation Sans', sans-serif" font-weight="200" font-size="33" fill="#111" text-anchor="middle">↑</text>
<text x="774.0" y="1611.8" font-family="'Liberation Sans', sans-serif" font-size="25.5" fill="#111" stroke="#111" stroke-width="0.3" textLength="89.4" lengthAdjust="spacingAndGlyphs">Alanine</text>
<text transform="translate(881.4 1616.1) scale(1.5 1)" font-family="'DejaVu Sans', 'Liberation Sans', sans-serif" font-weight="200" font-size="33" fill="#111" text-anchor="middle">↑</text>
<text x="759.4" y="1646.0" font-family="'Liberation Sans', sans-serif" font-size="25.5" fill="#111" stroke="#111" stroke-width="0.3" textLength="119.7" lengthAdjust="spacingAndGlyphs">glutamate</text>
<text transform="translate(896.7 1650.3) scale(1.5 1)" font-family="'DejaVu Sans', 'Liberation Sans', sans-serif" font-weight="200" font-size="33" fill="#111" text-anchor="middle">↑</text>
<text x="961.2" y="1567.4" font-family="'Liberation Sans', sans-serif" font-size="25.5" fill="#111" stroke="#111" stroke-width="0.3" textLength="85.5" lengthAdjust="spacingAndGlyphs">taurine</text>
<text transform="translate(1064.3 1571.7) scale(1.5 1)" font-family="'DejaVu Sans', 'Liberation Sans', sans-serif" font-weight="200" font-size="33" fill="#111" text-anchor="middle">↓</text>
<text x="925.9" y="1613.5" font-family="'Liberation Sans', sans-serif" font-size="25.5" fill="#111" stroke="#111" stroke-width="0.3" textLength="153.9" lengthAdjust="spacingAndGlyphs">acetoacetate</text>
<text transform="translate(1097.8 1617.8) scale(1.5 1)" font-family="'DejaVu Sans', 'Liberation Sans', sans-serif" font-weight="200" font-size="33" fill="#111" text-anchor="middle">↓</text>
<text x="1171.7" y="1530.4" font-family="'Liberation Sans', sans-serif" font-size="25.5" fill="#111" stroke="#111" stroke-width="0.3" textLength="74.0" lengthAdjust="spacingAndGlyphs">BCAAs</text>
<text transform="translate(1264.5 1534.7) scale(1.5 1)" font-family="'DejaVu Sans', 'Liberation Sans', sans-serif" font-weight="200" font-size="33" fill="#111" text-anchor="middle">↓</text>
<text x="1193.7" y="1564.6" font-family="'Liberation Sans', sans-serif" font-size="25.5" fill="#111" stroke="#111" stroke-width="0.3" textLength="31.0" lengthAdjust="spacingAndGlyphs">HB</text>
<text transform="translate(1243.7 1568.9) scale(1.5 1)" font-family="'DejaVu Sans', 'Liberation Sans', sans-serif" font-weight="200" font-size="33" fill="#111" text-anchor="middle">↓</text>
<text x="1149.7" y="1599.6" font-family="'Liberation Sans', sans-serif" font-size="25.5" fill="#111" stroke="#111" stroke-width="0.3" textLength="118.7" lengthAdjust="spacingAndGlyphs">glutamine</text>
<text transform="translate(1286.3 1603.9) scale(1.5 1)" font-family="'DejaVu Sans', 'Liberation Sans', sans-serif" font-weight="200" font-size="33" fill="#111" text-anchor="middle">↓</text>
<text x="1161.5" y="1634.5" font-family="'Liberation Sans', sans-serif" font-size="25.5" fill="#111" stroke="#111" stroke-width="0.3" textLength="95.7" lengthAdjust="spacingAndGlyphs">creatine</text>
<text transform="translate(1275.2 1638.8) scale(1.5 1)" font-family="'DejaVu Sans', 'Liberation Sans', sans-serif" font-weight="200" font-size="33" fill="#111" text-anchor="middle">↓</text>
<text x="1165.4" y="1669.4" font-family="'Liberation Sans', sans-serif" font-size="25.5" fill="#111" stroke="#111" stroke-width="0.3" textLength="87.3" lengthAdjust="spacingAndGlyphs">glucose</text>
<text transform="translate(1272.4 1673.7) scale(1.5 1)" font-family="'DejaVu Sans', 'Liberation Sans', sans-serif" font-weight="200" font-size="33" fill="#111" text-anchor="middle">↑</text>
<text x="564.9" y="1597.9" font-family="'Liberation Sans', sans-serif" font-size="25.5" fill="#111" stroke="#111" stroke-width="0.3" textLength="129.9" lengthAdjust="spacingAndGlyphs">Ver <tspan font-style="italic">vs</tspan> MIRI</text>
<text x="1350.5" y="1597.9" font-family="'Liberation Sans', sans-serif" font-size="25.5" fill="#111" stroke="#111" stroke-width="0.3" textLength="157.1" lengthAdjust="spacingAndGlyphs">WXKL <tspan font-style="italic">vs</tspan> MIRI</text>
<g>
<path d="M130.1 24.9 V392.0 M200.2 24.9 V392.0 M270.0 24.9 V392.0 M339.8 24.9 V392.0 M409.0 24.9 V392.0 M73.3 76.2 H437.4 M73.3 134.4 H437.4 M73.3 192.3 H437.4 M73.3 250.5 H437.4 M73.3 309.3 H437.4 M73.3 367.5 H437.4" stroke="#cbcbcb" stroke-width="1.25" stroke-dasharray="1.5 2.5" fill="none"/>
<ellipse cx="222.5" cy="209.1" rx="166.9" ry="84.6" transform="rotate(57.10 222.5 209.1)" fill="rgba(255,0,0,0.26)"/>
<ellipse cx="327.9" cy="172.7" rx="108.3" ry="45.5" transform="rotate(53.25 327.9 172.7)" fill="rgba(0,200,0,0.26)"/>
<rect x="354.4" y="21.9" width="86.0" height="60.4" fill="#fff" stroke="#111" stroke-width="1.4"/>
<rect x="68.3" y="21.9" width="372.09999999999997" height="372.1" fill="none" stroke="#111" stroke-width="1.4"/>
<path d="M130.1 394.0 v7.3 M200.2 394.0 v7.3 M270.0 394.0 v7.3 M339.8 394.0 v7.3 M409.0 394.0 v7.3 M68.3 76.2 h-7.3 M68.3 134.4 h-7.3 M68.3 192.3 h-7.3 M68.3 250.5 h-7.3 M68.3 309.3 h-7.3 M68.3 367.5 h-7.3" stroke="#111" stroke-width="1.4" fill="none"/>
<text x="130.1" y="420.5" font-family="'Liberation Sans', sans-serif" font-size="12" text-anchor="middle" fill="#1a1a1a" stroke="#1a1a1a" stroke-width="0.4">-20</text>
<text x="200.2" y="420.5" font-family="'Liberation Sans', sans-serif" font-size="12" text-anchor="middle" fill="#1a1a1a" stroke="#1a1a1a" stroke-width="0.4">-10</text>
<text x="270.0" y="420.5" font-family="'Liberation Sans', sans-serif" font-size="12" text-anchor="middle" fill="#1a1a1a" stroke="#1a1a1a" stroke-width="0.4">0</text>
<text x="339.8" y="420.5" font-family="'Liberation Sans', sans-serif" font-size="12" text-anchor="middle" fill="#1a1a1a" stroke="#1a1a1a" stroke-width="0.4">10</text>
<text x="409.0" y="420.5" font-family="'Liberation Sans', sans-serif" font-size="12" text-anchor="middle" fill="#1a1a1a" stroke="#1a1a1a" stroke-width="0.4">20</text>
<text transform="translate(54.3 76.2) rotate(-90)" font-family="'Liberation Sans', sans-serif" font-size="12" text-anchor="middle" fill="#1a1a1a" stroke="#1a1a1a" stroke-width="0.4">20</text>
<text transform="translate(54.3 134.4) rotate(-90)" font-family="'Liberation Sans', sans-serif" font-size="12" text-anchor="middle" fill="#1a1a1a" stroke="#1a1a1a" stroke-width="0.4">10</text>
<text transform="translate(54.3 192.3) rotate(-90)" font-family="'Liberation Sans', sans-serif" font-size="12" text-anchor="middle" fill="#1a1a1a" stroke="#1a1a1a" stroke-width="0.4">0</text>
<text transform="translate(54.3 250.5) rotate(-90)" font-family="'Liberation Sans', sans-serif" font-size="12" text-anchor="middle" fill="#1a1a1a" stroke="#1a1a1a" stroke-width="0.4">-10</text>
<text transform="translate(54.3 309.3) rotate(-90)" font-family="'Liberation Sans', sans-serif" font-size="12" text-anchor="middle" fill="#1a1a1a" stroke="#1a1a1a" stroke-width="0.4">-20</text>
<text transform="translate(54.3 367.5) rotate(-90)" font-family="'Liberation Sans', sans-serif" font-size="12" text-anchor="middle" fill="#1a1a1a" stroke="#1a1a1a" stroke-width="0.4">-30</text>
<text x="268.5" y="450.5" font-family="'Liberation Sans', sans-serif" font-size="18.3" text-anchor="middle" fill="#1a1a1a" stroke="#1a1a1a" stroke-width="0.2">Component 1 ( 39.7 %)</text>
<text transform="translate(19.5 200.4) rotate(-90)" font-family="'Liberation Sans', sans-serif" font-size="18.3" text-anchor="middle" fill="#1a1a1a" stroke="#1a1a1a" stroke-width="0.2">Component 2 ( 38.1 %)</text>
<path d="M370.0 37.0 L374.8 45.4 L365.2 45.4 Z" fill="none" stroke="#e8202a" stroke-width="1.4"/>
<text x="385.5" y="48.2" font-family="'Liberation Sans', sans-serif" font-size="18.3" fill="#111" stroke="#111" stroke-width="0.2">MIRI</text>
<path d="M364.0 62.5 H376.0 M370.0 56.5 V68.5" fill="none" stroke="#1fbf1f" stroke-width="1.4"/>
<text x="385.5" y="69.3" font-family="'Liberation Sans', sans-serif" font-size="18.3" fill="#111" stroke="#111" stroke-width="0.2">Sham</text>
<path d="M179.8 125.2 L183.2 131.2 L176.4 131.2 Z" fill="none" stroke="#e8202a" stroke-width="1.2"/>
<text x="187.4" y="131.3" font-family="'Liberation Sans', sans-serif" font-size="8.4" font-weight="bold" fill="#1a1a1a">A2</text>
<path d="M219.1 156.3 L222.5 162.2 L215.7 162.2 Z" fill="none" stroke="#e8202a" stroke-width="1.2"/>
<text x="226.7" y="162.4" font-family="'Liberation Sans', sans-serif" font-size="8.4" font-weight="bold" fill="#1a1a1a">A4</text>
<path d="M174.0 238.3 L177.4 244.2 L170.6 244.2 Z" fill="none" stroke="#e8202a" stroke-width="1.2"/>
<text x="181.6" y="244.4" font-family="'Liberation Sans', sans-serif" font-size="8.4" font-weight="bold" fill="#1a1a1a">D6</text>
<path d="M281.9 241.6 L285.3 247.6 L278.5 247.6 Z" fill="none" stroke="#e8202a" stroke-width="1.2"/>
<text x="289.5" y="247.7" font-family="'Liberation Sans', sans-serif" font-size="8.4" font-weight="bold" fill="#1a1a1a">C4</text>
<path d="M257.5 262.7 L260.9 268.7 L254.1 268.7 Z" fill="none" stroke="#e8202a" stroke-width="1.2"/>
<text x="265.1" y="268.8" font-family="'Liberation Sans', sans-serif" font-size="8.4" font-weight="bold" fill="#1a1a1a">D2</text>
<path d="M279.0 125.9 H287.2 M283.1 121.8 V130.0" fill="none" stroke="#1fbf1f" stroke-width="1.3"/>
<text x="290.7" y="128.6" font-family="'Liberation Sans', sans-serif" font-size="8.4" font-weight="bold" fill="#1a1a1a">E1</text>
<path d="M345.5 162.1 H353.7 M349.6 158.0 V166.2" fill="none" stroke="#1fbf1f" stroke-width="1.3"/>
<text x="357.2" y="164.8" font-family="'Liberation Sans', sans-serif" font-size="8.4" font-weight="bold" fill="#1a1a1a">F1</text>
<path d="M340.3 190.2 H348.5 M344.4 186.1 V194.3" fill="none" stroke="#1fbf1f" stroke-width="1.3"/>
<text x="352.0" y="192.9" font-family="'Liberation Sans', sans-serif" font-size="8.4" font-weight="bold" fill="#1a1a1a">E2</text>
<path d="M329.3 211.5 H337.5 M333.4 207.4 V215.6" fill="none" stroke="#1fbf1f" stroke-width="1.3"/>
<text x="341.0" y="214.2" font-family="'Liberation Sans', sans-serif" font-size="8.4" font-weight="bold" fill="#1a1a1a">H3</text>
</g>
<g>
<path d="M82.3 501.0 V867.9 M141.7 501.0 V867.9 M200.8 501.0 V867.9 M260.3 501.0 V867.9 M319.4 501.0 V867.9 M378.5 501.0 V867.9 M437.6 501.0 V867.9 M73.3 507.5 H437.4 M73.3 563.0 H437.4 M73.3 617.8 H437.4 M73.3 671.8 H437.4 M73.3 726.0 H437.4 M73.3 780.6 H437.4 M73.3 834.8 H437.4" stroke="#cbcbcb" stroke-width="1.25" stroke-dasharray="1.5 2.5" fill="none"/>
<ellipse cx="201.6" cy="684.5" rx="157.7" ry="76.7" transform="rotate(66.09 201.6 684.5)" fill="rgba(255,0,0,0.26)"/>
<ellipse cx="319.6" cy="658.4" rx="119.6" ry="60.0" transform="rotate(56.59 319.6 658.4)" fill="rgba(0,200,0,0.26)"/>
<rect x="363.9" y="498.0" width="76.5" height="60.39999999999998" fill="#fff" stroke="#111" stroke-width="1.4"/>
<rect x="68.3" y="498.0" width="372.09999999999997" height="371.9" fill="none" stroke="#111" stroke-width="1.4"/>
<path d="M82.3 869.9 v7.3 M141.7 869.9 v7.3 M200.8 869.9 v7.3 M260.3 869.9 v7.3 M319.4 869.9 v7.3 M378.5 869.9 v7.3 M437.6 869.9 v7.3 M68.3 507.5 h-7.3 M68.3 563.0 h-7.3 M68.3 617.8 h-7.3 M68.3 671.8 h-7.3 M68.3 726.0 h-7.3 M68.3 780.6 h-7.3 M68.3 834.8 h-7.3" stroke="#111" stroke-width="1.4" fill="none"/>
<text x="82.3" y="896.4" font-family="'Liberation Sans', sans-serif" font-size="12" text-anchor="middle" fill="#1a1a1a" stroke="#1a1a1a" stroke-width="0.4">-30</text>
<text x="141.7" y="896.4" font-family="'Liberation Sans', sans-serif" font-size="12" text-anchor="middle" fill="#1a1a1a" stroke="#1a1a1a" stroke-width="0.4">-20</text>
<text x="200.8" y="896.4" font-family="'Liberation Sans', sans-serif" font-size="12" text-anchor="middle" fill="#1a1a1a" stroke="#1a1a1a" stroke-width="0.4">-10</text>
<text x="260.3" y="896.4" font-family="'Liberation Sans', sans-serif" font-size="12" text-anchor="middle" fill="#1a1a1a" stroke="#1a1a1a" stroke-width="0.4">0</text>
<text x="319.4" y="896.4" font-family="'Liberation Sans', sans-serif" font-size="12" text-anchor="middle" fill="#1a1a1a" stroke="#1a1a1a" stroke-width="0.4">10</text>
<text x="378.5" y="896.4" font-family="'Liberation Sans', sans-serif" font-size="12" text-anchor="middle" fill="#1a1a1a" stroke="#1a1a1a" stroke-width="0.4">20</text>
<text x="437.6" y="896.4" font-family="'Liberation Sans', sans-serif" font-size="12" text-anchor="middle" fill="#1a1a1a" stroke="#1a1a1a" stroke-width="0.4">30</text>
<text transform="translate(54.3 507.5) rotate(-90)" font-family="'Liberation Sans', sans-serif" font-size="12" text-anchor="middle" fill="#1a1a1a" stroke="#1a1a1a" stroke-width="0.4">30</text>
<text transform="translate(54.3 563.0) rotate(-90)" font-family="'Liberation Sans', sans-serif" font-size="12" text-anchor="middle" fill="#1a1a1a" stroke="#1a1a1a" stroke-width="0.4">20</text>
<text transform="translate(54.3 617.8) rotate(-90)" font-family="'Liberation Sans', sans-serif" font-size="12" text-anchor="middle" fill="#1a1a1a" stroke="#1a1a1a" stroke-width="0.4">10</text>
<text transform="translate(54.3 671.8) rotate(-90)" font-family="'Liberation Sans', sans-serif" font-size="12" text-anchor="middle" fill="#1a1a1a" stroke="#1a1a1a" stroke-width="0.4">0</text>
<text transform="translate(54.3 726.0) rotate(-90)" font-family="'Liberation Sans', sans-serif" font-size="12" text-anchor="middle" fill="#1a1a1a" stroke="#1a1a1a" stroke-width="0.4">-10</text>
<text transform="translate(54.3 780.6) rotate(-90)" font-family="'Liberation Sans', sans-serif" font-size="12" text-anchor="middle" fill="#1a1a1a" stroke="#1a1a1a" stroke-width="0.4">-20</text>
<text transform="translate(54.3 834.8) rotate(-90)" font-family="'Liberation Sans', sans-serif" font-size="12" text-anchor="middle" fill="#1a1a1a" stroke="#1a1a1a" stroke-width="0.4">-30</text>
<text x="256.0" y="930.8" font-family="'Liberation Sans', sans-serif" font-size="18.3" text-anchor="middle" fill="#1a1a1a" stroke="#1a1a1a" stroke-width="0.2">Component 1 ( 47.4 %)</text>
<text transform="translate(19.5 681.0) rotate(-90)" font-family="'Liberation Sans', sans-serif" font-size="18.3" text-anchor="middle" fill="#1a1a1a" stroke="#1a1a1a" stroke-width="0.2">Component 2 ( 31.6 %)</text>
<path d="M379.1 513.0 L383.9 521.4 L374.3 521.4 Z" fill="none" stroke="#e8202a" stroke-width="1.4"/>
<text x="395" y="524.2" font-family="'Liberation Sans', sans-serif" font-size="18.3" fill="#111" stroke="#111" stroke-width="0.2">MIRI</text>
<path d="M373.1 538.5 H385.1 M379.1 532.5 V544.5" fill="none" stroke="#1fbf1f" stroke-width="1.4"/>
<text x="395" y="545.0" font-family="'Liberation Sans', sans-serif" font-size="18.3" fill="#111" stroke="#111" stroke-width="0.2">Ver</text>
<path d="M163.0 600.1 L166.4 606.0 L159.6 606.0 Z" fill="none" stroke="#e8202a" stroke-width="1.2"/>
<text x="170.6" y="606.2" font-family="'Liberation Sans', sans-serif" font-size="8.4" font-weight="bold" fill="#1a1a1a">A2</text>
<path d="M199.9 632.4 L203.3 638.3 L196.5 638.3 Z" fill="none" stroke="#e8202a" stroke-width="1.2"/>
<text x="207.5" y="638.5" font-family="'Liberation Sans', sans-serif" font-size="8.4" font-weight="bold" fill="#1a1a1a">A4</text>
<path d="M164.9 724.7 L168.3 730.6 L161.5 730.6 Z" fill="none" stroke="#e8202a" stroke-width="1.2"/>
<text x="172.5" y="730.8" font-family="'Liberation Sans', sans-serif" font-size="8.4" font-weight="bold" fill="#1a1a1a">D6</text>
<path d="M249.3 710.7 L252.7 716.6 L245.9 716.6 Z" fill="none" stroke="#e8202a" stroke-width="1.2"/>
<text x="256.9" y="716.8" font-family="'Liberation Sans', sans-serif" font-size="8.4" font-weight="bold" fill="#1a1a1a">C4</text>
<path d="M231.3 735.1 L234.7 741.0 L227.9 741.0 Z" fill="none" stroke="#e8202a" stroke-width="1.2"/>
<text x="238.9" y="741.2" font-family="'Liberation Sans', sans-serif" font-size="8.4" font-weight="bold" fill="#1a1a1a">D2</text>
<path d="M269.0 593.4 H277.2 M273.1 589.3 V597.5" fill="none" stroke="#1fbf1f" stroke-width="1.3"/>
<text x="280.7" y="596.1" font-family="'Liberation Sans', sans-serif" font-size="8.4" font-weight="bold" fill="#1a1a1a">D4</text>
<path d="M341.8 644.3 H350.0 M345.9 640.2 V648.4" fill="none" stroke="#1fbf1f" stroke-width="1.3"/>
<text x="353.5" y="647.0" font-family="'Liberation Sans', sans-serif" font-size="8.4" font-weight="bold" fill="#1a1a1a">F5</text>
<path d="M315.0 659.9 H323.2 M319.1 655.8 V664.0" fill="none" stroke="#1fbf1f" stroke-width="1.3"/>
<text x="326.7" y="662.6" font-family="'Liberation Sans', sans-serif" font-size="8.4" font-weight="bold" fill="#1a1a1a">F3</text>
<path d="M352.5 692.5 H360.7 M356.6 688.4 V696.6" fill="none" stroke="#1fbf1f" stroke-width="1.3"/>
<text x="364.2" y="695.2" font-family="'Liberation Sans', sans-serif" font-size="8.4" font-weight="bold" fill="#1a1a1a">F2</text>
<path d="M297.0 701.0 H305.2 M301.1 696.9 V705.1" fill="none" stroke="#1fbf1f" stroke-width="1.3"/>
<text x="308.7" y="703.7" font-family="'Liberation Sans', sans-serif" font-size="8.4" font-weight="bold" fill="#1a1a1a">H6</text>
</g>
<g>
<path d="M88.7 985.0 V1352.4 M141.7 985.0 V1352.4 M195.0 985.0 V1352.4 M247.5 985.0 V1352.4 M300.2 985.0 V1352.4 M353.2 985.0 V1352.4 M406.2 985.0 V1352.4 M73.3 998.8 H437.4 M73.3 1085.9 H437.4 M73.3 1171.9 H437.4 M73.3 1258.7 H437.4 M73.3 1345.6 H437.4" stroke="#cbcbcb" stroke-width="1.25" stroke-dasharray="1.5 2.5" fill="none"/>
<ellipse cx="254.5" cy="1194.5" rx="172.9" ry="82.8" transform="rotate(-143.79 254.5 1194.5)" fill="rgba(255,0,0,0.26)"/>
<ellipse cx="346.1" cy="1150.7" rx="133.1" ry="39.6" transform="rotate(75.31 346.1 1150.7)" fill="rgba(0,200,0,0.26)"/>
<rect x="350.5" y="982.0" width="89.89999999999998" height="60.0" fill="#fff" stroke="#111" stroke-width="1.4"/>
<rect x="68.3" y="982.0" width="372.09999999999997" height="372.4000000000001" fill="none" stroke="#111" stroke-width="1.4"/>
<path d="M88.7 1354.4 v7.3 M141.7 1354.4 v7.3 M195.0 1354.4 v7.3 M247.5 1354.4 v7.3 M300.2 1354.4 v7.3 M353.2 1354.4 v7.3 M406.2 1354.4 v7.3 M68.3 998.8 h-7.3 M68.3 1085.9 h-7.3 M68.3 1171.9 h-7.3 M68.3 1258.7 h-7.3 M68.3 1345.6 h-7.3" stroke="#111" stroke-width="1.4" fill="none"/>
<text x="88.7" y="1380.9" font-family="'Liberation Sans', sans-serif" font-size="12" text-anchor="middle" fill="#1a1a1a" stroke="#1a1a1a" stroke-width="0.4">-40</text>
<text x="141.7" y="1380.9" font-family="'Liberation Sans', sans-serif" font-size="12" text-anchor="middle" fill="#1a1a1a" stroke="#1a1a1a" stroke-width="0.4">-30</text>
<text x="195.0" y="1380.9" font-family="'Liberation Sans', sans-serif" font-size="12" text-anchor="middle" fill="#1a1a1a" stroke="#1a1a1a" stroke-width="0.4">-20</text>
<text x="247.5" y="1380.9" font-family="'Liberation Sans', sans-serif" font-size="12" text-anchor="middle" fill="#1a1a1a" stroke="#1a1a1a" stroke-width="0.4">-10</text>
<text x="300.2" y="1380.9" font-family="'Liberation Sans', sans-serif" font-size="12" text-anchor="middle" fill="#1a1a1a" stroke="#1a1a1a" stroke-width="0.4">0</text>
<text x="353.2" y="1380.9" font-family="'Liberation Sans', sans-serif" font-size="12" text-anchor="middle" fill="#1a1a1a" stroke="#1a1a1a" stroke-width="0.4">10</text>
<text x="406.2" y="1380.9" font-family="'Liberation Sans', sans-serif" font-size="12" text-anchor="middle" fill="#1a1a1a" stroke="#1a1a1a" stroke-width="0.4">20</text>
<text transform="translate(54.3 998.8) rotate(-90)" font-family="'Liberation Sans', sans-serif" font-size="12" text-anchor="middle" fill="#1a1a1a" stroke="#1a1a1a" stroke-width="0.4">20</text>
<text transform="translate(54.3 1085.9) rotate(-90)" font-family="'Liberation Sans', sans-serif" font-size="12" text-anchor="middle" fill="#1a1a1a" stroke="#1a1a1a" stroke-width="0.4">10</text>
<text transform="translate(54.3 1171.9) rotate(-90)" font-family="'Liberation Sans', sans-serif" font-size="12" text-anchor="middle" fill="#1a1a1a" stroke="#1a1a1a" stroke-width="0.4">0</text>
<text transform="translate(54.3 1258.7) rotate(-90)" font-family="'Liberation Sans', sans-serif" font-size="12" text-anchor="middle" fill="#1a1a1a" stroke="#1a1a1a" stroke-width="0.4">-10</text>
<text transform="translate(54.3 1345.6) rotate(-90)" font-family="'Liberation Sans', sans-serif" font-size="12" text-anchor="middle" fill="#1a1a1a" stroke="#1a1a1a" stroke-width="0.4">-20</text>
<text x="245.3" y="1417.8" font-family="'Liberation Sans', sans-serif" font-size="18.3" text-anchor="middle" fill="#1a1a1a" stroke="#1a1a1a" stroke-width="0.2">Component 1 ( 55.2 %)</text>
<text transform="translate(22.5 1161.8) rotate(-90)" font-family="'Liberation Sans', sans-serif" font-size="18.3" text-anchor="middle" fill="#1a1a1a" stroke="#1a1a1a" stroke-width="0.2">Component 2 ( 21.1 %)</text>
<path d="M366.0 997.2 L370.8 1005.6 L361.2 1005.6 Z" fill="none" stroke="#e8202a" stroke-width="1.4"/>
<text x="381.5" y="1008.6" font-family="'Liberation Sans', sans-serif" font-size="18.3" fill="#111" stroke="#111" stroke-width="0.2">MIRI</text>
<path d="M360.0 1022.8 H372.0 M366.0 1016.8 V1028.8" fill="none" stroke="#1fbf1f" stroke-width="1.4"/>
<text x="381.5" y="1029.5" font-family="'Liberation Sans', sans-serif" font-size="18.3" fill="#111" stroke="#111" stroke-width="0.2">WXKL</text>
<path d="M196.6 1144.1 L200.0 1150.0 L193.2 1150.0 Z" fill="none" stroke="#e8202a" stroke-width="1.2"/>
<text x="204.2" y="1150.2" font-family="'Liberation Sans', sans-serif" font-size="8.4" font-weight="bold" fill="#1a1a1a">D2</text>
<path d="M225.5 1133.4 L228.9 1139.3 L222.1 1139.3 Z" fill="none" stroke="#e8202a" stroke-width="1.2"/>
<text x="233.1" y="1139.5" font-family="'Liberation Sans', sans-serif" font-size="8.4" font-weight="bold" fill="#1a1a1a">C4</text>
<path d="M297.8 1200.2 L301.2 1206.1 L294.4 1206.1 Z" fill="none" stroke="#e8202a" stroke-width="1.2"/>
<text x="305.4" y="1206.3" font-family="'Liberation Sans', sans-serif" font-size="8.4" font-weight="bold" fill="#1a1a1a">A4</text>
<path d="M215.5 1233.1 L218.9 1239.0 L212.1 1239.0 Z" fill="none" stroke="#e8202a" stroke-width="1.2"/>
<text x="223.1" y="1239.2" font-family="'Liberation Sans', sans-serif" font-size="8.4" font-weight="bold" fill="#1a1a1a">D6</text>
<path d="M338.0 1241.6 L341.4 1247.5 L334.6 1247.5 Z" fill="none" stroke="#e8202a" stroke-width="1.2"/>
<text x="345.6" y="1247.7" font-family="'Liberation Sans', sans-serif" font-size="8.4" font-weight="bold" fill="#1a1a1a">A2</text>
<path d="M317.4 1067.0 H325.6 M321.5 1062.9 V1071.1" fill="none" stroke="#1fbf1f" stroke-width="1.3"/>
<text x="329.1" y="1069.7" font-family="'Liberation Sans', sans-serif" font-size="8.4" font-weight="bold" fill="#1a1a1a">C3</text>
<path d="M336.3 1131.9 H344.5 M340.4 1127.8 V1136.0" fill="none" stroke="#1fbf1f" stroke-width="1.3"/>
<text x="348.0" y="1134.6" font-family="'Liberation Sans', sans-serif" font-size="8.4" font-weight="bold" fill="#1a1a1a">C2</text>
<path d="M374.4 1168.2 H382.6 M378.5 1164.1 V1172.3" fill="none" stroke="#1fbf1f" stroke-width="1.3"/>
<text x="386.1" y="1170.9" font-family="'Liberation Sans', sans-serif" font-size="8.4" font-weight="bold" fill="#1a1a1a">G3</text>
<path d="M342.7 1189.5 H350.9 M346.8 1185.4 V1193.6" fill="none" stroke="#1fbf1f" stroke-width="1.3"/>
<text x="354.4" y="1192.2" font-family="'Liberation Sans', sans-serif" font-size="8.4" font-weight="bold" fill="#1a1a1a">G6</text>
<path d="M338.1 1195.0 H346.3 M342.2 1190.9 V1199.1" fill="none" stroke="#1fbf1f" stroke-width="1.3"/>
<text x="349.8" y="1197.7" font-family="'Liberation Sans', sans-serif" font-size="8.4" font-weight="bold" fill="#1a1a1a">G1</text>
</g>
<circle cx="844.4" cy="465.3" r="1.25" fill="#111"/>
<text transform="translate(4.6 23.7) scale(1.08 1)" font-family="'Liberation Sans', sans-serif" font-size="28.6" font-weight="bold" fill="#000">A</text>
<text transform="translate(2.6 497.5) scale(0.97 1)" font-family="'Liberation Sans', sans-serif" font-size="28.6" font-weight="bold" fill="#000">C</text>
<text transform="translate(2.4 978.0) scale(0.97 1)" font-family="'Liberation Sans', sans-serif" font-size="28.6" font-weight="bold" fill="#000">E</text>
</svg>
</body></html>
